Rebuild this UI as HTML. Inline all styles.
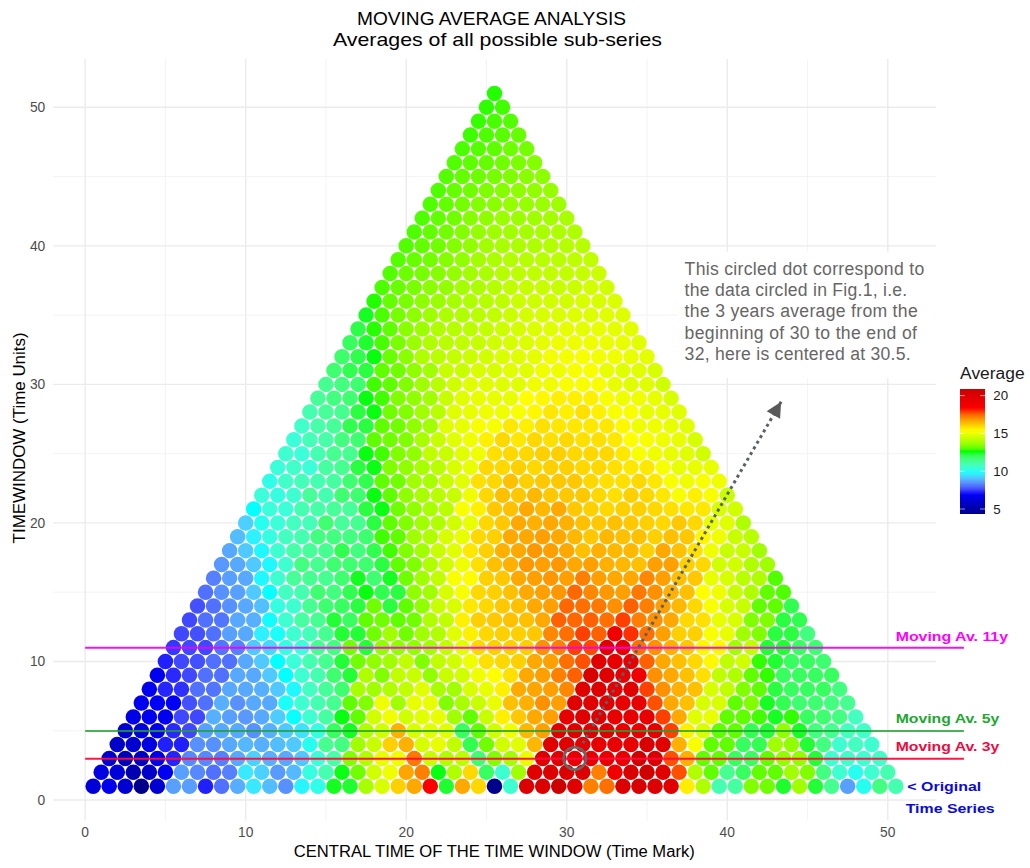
<!DOCTYPE html>
<html><head><meta charset="utf-8"><style>
html,body{margin:0;padding:0;background:#fff;}
svg{display:block;}
text{font-family:"Liberation Sans",sans-serif;}
.ax{font-size:13.8px;fill:#4D4D4D;}
.lg{font-size:13.3px;fill:#1A1A1A;}
.tt{font-size:18.6px;fill:#000;}
.at{font-size:15.6px;fill:#000;}
.ma{font-size:13.3px;font-weight:bold;}
.an{font-size:17.6px;fill:#666666;}
</style></head><body>
<svg width="1030" height="868" viewBox="0 0 1030 868">
<rect width="1030" height="868" fill="#fff"/>
<line x1="85.15" y1="59.0" x2="85.15" y2="820.6" stroke="#EBEBEB" stroke-width="1.4"/>
<line x1="245.68" y1="59.0" x2="245.68" y2="820.6" stroke="#EBEBEB" stroke-width="1.4"/>
<line x1="406.21" y1="59.0" x2="406.21" y2="820.6" stroke="#EBEBEB" stroke-width="1.4"/>
<line x1="566.74" y1="59.0" x2="566.74" y2="820.6" stroke="#EBEBEB" stroke-width="1.4"/>
<line x1="727.27" y1="59.0" x2="727.27" y2="820.6" stroke="#EBEBEB" stroke-width="1.4"/>
<line x1="887.80" y1="59.0" x2="887.80" y2="820.6" stroke="#EBEBEB" stroke-width="1.4"/>
<line x1="165.42" y1="59.0" x2="165.42" y2="820.6" stroke="#F0F0F0" stroke-width="0.8"/>
<line x1="325.95" y1="59.0" x2="325.95" y2="820.6" stroke="#F0F0F0" stroke-width="0.8"/>
<line x1="486.48" y1="59.0" x2="486.48" y2="820.6" stroke="#F0F0F0" stroke-width="0.8"/>
<line x1="647.00" y1="59.0" x2="647.00" y2="820.6" stroke="#F0F0F0" stroke-width="0.8"/>
<line x1="807.53" y1="59.0" x2="807.53" y2="820.6" stroke="#F0F0F0" stroke-width="0.8"/>
<line x1="53.2" y1="800.00" x2="936.0" y2="800.00" stroke="#EBEBEB" stroke-width="1.4"/>
<line x1="53.2" y1="661.46" x2="936.0" y2="661.46" stroke="#EBEBEB" stroke-width="1.4"/>
<line x1="53.2" y1="522.92" x2="936.0" y2="522.92" stroke="#EBEBEB" stroke-width="1.4"/>
<line x1="53.2" y1="384.38" x2="936.0" y2="384.38" stroke="#EBEBEB" stroke-width="1.4"/>
<line x1="53.2" y1="245.84" x2="936.0" y2="245.84" stroke="#EBEBEB" stroke-width="1.4"/>
<line x1="53.2" y1="107.30" x2="936.0" y2="107.30" stroke="#EBEBEB" stroke-width="1.4"/>
<line x1="53.2" y1="730.73" x2="936.0" y2="730.73" stroke="#F0F0F0" stroke-width="0.8"/>
<line x1="53.2" y1="592.19" x2="936.0" y2="592.19" stroke="#F0F0F0" stroke-width="0.8"/>
<line x1="53.2" y1="453.65" x2="936.0" y2="453.65" stroke="#F0F0F0" stroke-width="0.8"/>
<line x1="53.2" y1="315.11" x2="936.0" y2="315.11" stroke="#F0F0F0" stroke-width="0.8"/>
<line x1="53.2" y1="176.57" x2="936.0" y2="176.57" stroke="#F0F0F0" stroke-width="0.8"/>
<text x="45.3" y="804.70" text-anchor="end" class="ax">0</text>
<text x="45.3" y="666.16" text-anchor="end" class="ax">10</text>
<text x="45.3" y="527.62" text-anchor="end" class="ax">20</text>
<text x="45.3" y="389.08" text-anchor="end" class="ax">30</text>
<text x="45.3" y="250.54" text-anchor="end" class="ax">40</text>
<text x="45.3" y="112.00" text-anchor="end" class="ax">50</text>
<text x="85.15" y="837.3" text-anchor="middle" class="ax">0</text>
<text x="245.68" y="837.3" text-anchor="middle" class="ax">10</text>
<text x="406.21" y="837.3" text-anchor="middle" class="ax">20</text>
<text x="566.74" y="837.3" text-anchor="middle" class="ax">30</text>
<text x="727.27" y="837.3" text-anchor="middle" class="ax">40</text>
<text x="887.80" y="837.3" text-anchor="middle" class="ax">50</text>
<text x="491.5" y="25.4" text-anchor="middle" class="tt" textLength="269" lengthAdjust="spacingAndGlyphs">MOVING AVERAGE ANALYSIS</text>
<text x="497.5" y="46.2" text-anchor="middle" class="tt" textLength="329" lengthAdjust="spacingAndGlyphs">Averages of all possible sub-series</text>
<text x="494.3" y="856.6" text-anchor="middle" class="at" textLength="401" lengthAdjust="spacingAndGlyphs">CENTRAL TIME OF THE TIME WINDOW (Time Mark)</text>
<text transform="translate(25.3,437.9) rotate(-90)" x="0" y="0" text-anchor="middle" class="at" textLength="211" lengthAdjust="spacingAndGlyphs">TIMEWINDOW (Time Units)</text>
<g><circle cx="93.18" cy="786.15" r="7.75" fill="#0000d8"/>
<circle cx="109.23" cy="786.15" r="7.75" fill="#0000ee"/>
<circle cx="125.28" cy="786.15" r="7.75" fill="#0000d0"/>
<circle cx="141.34" cy="786.15" r="7.75" fill="#00008b"/>
<circle cx="157.39" cy="786.15" r="7.75" fill="#0000d0"/>
<circle cx="173.44" cy="786.15" r="7.75" fill="#58a0ff"/>
<circle cx="189.49" cy="786.15" r="7.75" fill="#589eff"/>
<circle cx="205.55" cy="786.15" r="7.75" fill="#2020ff"/>
<circle cx="221.60" cy="786.15" r="7.75" fill="#5070ff"/>
<circle cx="237.65" cy="786.15" r="7.75" fill="#57aeff"/>
<circle cx="253.71" cy="786.15" r="7.75" fill="#38e9ff"/>
<circle cx="269.76" cy="786.15" r="7.75" fill="#53beff"/>
<circle cx="285.81" cy="786.15" r="7.75" fill="#5790ff"/>
<circle cx="301.87" cy="786.15" r="7.75" fill="#27f5ff"/>
<circle cx="317.92" cy="786.15" r="7.75" fill="#2fffe8"/>
<circle cx="333.97" cy="786.15" r="7.75" fill="#14ff20"/>
<circle cx="350.02" cy="786.15" r="7.75" fill="#1fff30"/>
<circle cx="366.08" cy="786.15" r="7.75" fill="#a8ff00"/>
<circle cx="382.13" cy="786.15" r="7.75" fill="#d8ff00"/>
<circle cx="398.18" cy="786.15" r="7.75" fill="#ffd000"/>
<circle cx="414.24" cy="786.15" r="7.75" fill="#ffa800"/>
<circle cx="430.29" cy="786.15" r="7.75" fill="#ff0000"/>
<circle cx="446.34" cy="786.15" r="7.75" fill="#1fff30"/>
<circle cx="462.40" cy="786.15" r="7.75" fill="#ffa900"/>
<circle cx="478.45" cy="786.15" r="7.75" fill="#ffd800"/>
<circle cx="494.50" cy="786.15" r="7.75" fill="#00008b"/>
<circle cx="510.55" cy="786.15" r="7.75" fill="#3effd0"/>
<circle cx="526.61" cy="786.15" r="7.75" fill="#dd0000"/>
<circle cx="542.66" cy="786.15" r="7.75" fill="#dd0000"/>
<circle cx="558.71" cy="786.15" r="7.75" fill="#cd0000"/>
<circle cx="574.77" cy="786.15" r="7.75" fill="#e00000"/>
<circle cx="590.82" cy="786.15" r="7.75" fill="#ff8000"/>
<circle cx="606.87" cy="786.15" r="7.75" fill="#ff7000"/>
<circle cx="622.93" cy="786.15" r="7.75" fill="#dd0000"/>
<circle cx="638.98" cy="786.15" r="7.75" fill="#d80000"/>
<circle cx="655.03" cy="786.15" r="7.75" fill="#dd0000"/>
<circle cx="671.08" cy="786.15" r="7.75" fill="#e00000"/>
<circle cx="687.14" cy="786.15" r="7.75" fill="#ffee00"/>
<circle cx="703.19" cy="786.15" r="7.75" fill="#b0ff00"/>
<circle cx="719.24" cy="786.15" r="7.75" fill="#45ffb1"/>
<circle cx="735.30" cy="786.15" r="7.75" fill="#46ffa1"/>
<circle cx="751.35" cy="786.15" r="7.75" fill="#80ff00"/>
<circle cx="767.40" cy="786.15" r="7.75" fill="#70ff00"/>
<circle cx="783.46" cy="786.15" r="7.75" fill="#1dff2d"/>
<circle cx="799.51" cy="786.15" r="7.75" fill="#a0ff00"/>
<circle cx="815.56" cy="786.15" r="7.75" fill="#23ff37"/>
<circle cx="831.61" cy="786.15" r="7.75" fill="#45ff91"/>
<circle cx="847.67" cy="786.15" r="7.75" fill="#58a0ff"/>
<circle cx="863.72" cy="786.15" r="7.75" fill="#26fff0"/>
<circle cx="879.77" cy="786.15" r="7.75" fill="#42ff81"/>
<circle cx="895.83" cy="786.15" r="7.75" fill="#45ffb1"/>
<circle cx="101.20" cy="772.29" r="7.75" fill="#0000e0"/>
<circle cx="117.26" cy="772.29" r="7.75" fill="#0000d8"/>
<circle cx="133.31" cy="772.29" r="7.75" fill="#0000b0"/>
<circle cx="149.36" cy="772.29" r="7.75" fill="#0000c8"/>
<circle cx="165.42" cy="772.29" r="7.75" fill="#0000f0"/>
<circle cx="181.47" cy="772.29" r="7.75" fill="#58a0ff"/>
<circle cx="197.52" cy="772.29" r="7.75" fill="#5688ff"/>
<circle cx="213.57" cy="772.29" r="7.75" fill="#5070ff"/>
<circle cx="229.63" cy="772.29" r="7.75" fill="#5580ff"/>
<circle cx="245.68" cy="772.29" r="7.75" fill="#38e9ff"/>
<circle cx="261.73" cy="772.29" r="7.75" fill="#4bd1ff"/>
<circle cx="277.79" cy="772.29" r="7.75" fill="#589aff"/>
<circle cx="293.84" cy="772.29" r="7.75" fill="#54b9ff"/>
<circle cx="309.89" cy="772.29" r="7.75" fill="#35ffe0"/>
<circle cx="325.95" cy="772.29" r="7.75" fill="#45ffb1"/>
<circle cx="342.00" cy="772.29" r="7.75" fill="#0bff13"/>
<circle cx="358.05" cy="772.29" r="7.75" fill="#70ff00"/>
<circle cx="374.10" cy="772.29" r="7.75" fill="#d0ff00"/>
<circle cx="390.16" cy="772.29" r="7.75" fill="#f0ff00"/>
<circle cx="406.21" cy="772.29" r="7.75" fill="#ffa500"/>
<circle cx="422.26" cy="772.29" r="7.75" fill="#ff8000"/>
<circle cx="438.32" cy="772.29" r="7.75" fill="#09ff10"/>
<circle cx="454.37" cy="772.29" r="7.75" fill="#b0ff00"/>
<circle cx="470.42" cy="772.29" r="7.75" fill="#ffd800"/>
<circle cx="486.48" cy="772.29" r="7.75" fill="#38ff60"/>
<circle cx="502.53" cy="772.29" r="7.75" fill="#3effd0"/>
<circle cx="518.58" cy="772.29" r="7.75" fill="#a0ff00"/>
<circle cx="534.63" cy="772.29" r="7.75" fill="#e00000"/>
<circle cx="550.69" cy="772.29" r="7.75" fill="#dd0000"/>
<circle cx="566.74" cy="772.29" r="7.75" fill="#dd0000"/>
<circle cx="582.79" cy="772.29" r="7.75" fill="#dd0000"/>
<circle cx="598.85" cy="772.29" r="7.75" fill="#ff8000"/>
<circle cx="614.90" cy="772.29" r="7.75" fill="#f00000"/>
<circle cx="630.95" cy="772.29" r="7.75" fill="#d80000"/>
<circle cx="647.00" cy="772.29" r="7.75" fill="#d00000"/>
<circle cx="663.06" cy="772.29" r="7.75" fill="#e00000"/>
<circle cx="679.11" cy="772.29" r="7.75" fill="#ff5000"/>
<circle cx="695.16" cy="772.29" r="7.75" fill="#b0ff00"/>
<circle cx="711.22" cy="772.29" r="7.75" fill="#60ff00"/>
<circle cx="727.27" cy="772.29" r="7.75" fill="#45ff91"/>
<circle cx="743.32" cy="772.29" r="7.75" fill="#38ff60"/>
<circle cx="759.38" cy="772.29" r="7.75" fill="#60ff00"/>
<circle cx="775.43" cy="772.29" r="7.75" fill="#60ff00"/>
<circle cx="791.48" cy="772.29" r="7.75" fill="#a0ff00"/>
<circle cx="807.53" cy="772.29" r="7.75" fill="#80ff00"/>
<circle cx="823.59" cy="772.29" r="7.75" fill="#42ff81"/>
<circle cx="839.64" cy="772.29" r="7.75" fill="#3effd0"/>
<circle cx="855.69" cy="772.29" r="7.75" fill="#26fff0"/>
<circle cx="871.75" cy="772.29" r="7.75" fill="#3effd0"/>
<circle cx="887.80" cy="772.29" r="7.75" fill="#45ffb1"/>
<circle cx="109.23" cy="758.44" r="7.75" fill="#0000d0"/>
<circle cx="125.28" cy="758.44" r="7.75" fill="#0000b8"/>
<circle cx="141.34" cy="758.44" r="7.75" fill="#0000c0"/>
<circle cx="157.39" cy="758.44" r="7.75" fill="#0000e8"/>
<circle cx="173.44" cy="758.44" r="7.75" fill="#2424ff"/>
<circle cx="189.49" cy="758.44" r="7.75" fill="#5688ff"/>
<circle cx="205.55" cy="758.44" r="7.75" fill="#5688ff"/>
<circle cx="221.60" cy="758.44" r="7.75" fill="#5580ff"/>
<circle cx="237.65" cy="758.44" r="7.75" fill="#57a8ff"/>
<circle cx="253.71" cy="758.44" r="7.75" fill="#4bd1ff"/>
<circle cx="269.76" cy="758.44" r="7.75" fill="#56b0ff"/>
<circle cx="285.81" cy="758.44" r="7.75" fill="#57a8ff"/>
<circle cx="301.87" cy="758.44" r="7.75" fill="#50c8ff"/>
<circle cx="317.92" cy="758.44" r="7.75" fill="#3affd8"/>
<circle cx="333.97" cy="758.44" r="7.75" fill="#46ffa9"/>
<circle cx="350.02" cy="758.44" r="7.75" fill="#80ff00"/>
<circle cx="366.08" cy="758.44" r="7.75" fill="#b0ff00"/>
<circle cx="382.13" cy="758.44" r="7.75" fill="#e8ff00"/>
<circle cx="398.18" cy="758.44" r="7.75" fill="#f0ff00"/>
<circle cx="414.24" cy="758.44" r="7.75" fill="#ff7800"/>
<circle cx="430.29" cy="758.44" r="7.75" fill="#c8ff00"/>
<circle cx="446.34" cy="758.44" r="7.75" fill="#b0ff00"/>
<circle cx="462.40" cy="758.44" r="7.75" fill="#b8ff00"/>
<circle cx="478.45" cy="758.44" r="7.75" fill="#3eff70"/>
<circle cx="494.50" cy="758.44" r="7.75" fill="#80ff00"/>
<circle cx="510.55" cy="758.44" r="7.75" fill="#a0ff00"/>
<circle cx="526.61" cy="758.44" r="7.75" fill="#e8ff00"/>
<circle cx="542.66" cy="758.44" r="7.75" fill="#dd0000"/>
<circle cx="558.71" cy="758.44" r="7.75" fill="#e00000"/>
<circle cx="574.77" cy="758.44" r="7.75" fill="#e80000"/>
<circle cx="590.82" cy="758.44" r="7.75" fill="#e80000"/>
<circle cx="606.87" cy="758.44" r="7.75" fill="#e80000"/>
<circle cx="622.93" cy="758.44" r="7.75" fill="#e80000"/>
<circle cx="638.98" cy="758.44" r="7.75" fill="#d00000"/>
<circle cx="655.03" cy="758.44" r="7.75" fill="#d80000"/>
<circle cx="671.08" cy="758.44" r="7.75" fill="#ff5000"/>
<circle cx="687.14" cy="758.44" r="7.75" fill="#ffb000"/>
<circle cx="703.19" cy="758.44" r="7.75" fill="#60ff00"/>
<circle cx="719.24" cy="758.44" r="7.75" fill="#60ff00"/>
<circle cx="735.30" cy="758.44" r="7.75" fill="#38ff60"/>
<circle cx="751.35" cy="758.44" r="7.75" fill="#38ff60"/>
<circle cx="767.40" cy="758.44" r="7.75" fill="#60ff00"/>
<circle cx="783.46" cy="758.44" r="7.75" fill="#90ff00"/>
<circle cx="799.51" cy="758.44" r="7.75" fill="#90ff00"/>
<circle cx="815.56" cy="758.44" r="7.75" fill="#23ff37"/>
<circle cx="831.61" cy="758.44" r="7.75" fill="#3effd0"/>
<circle cx="847.67" cy="758.44" r="7.75" fill="#40ffc8"/>
<circle cx="863.72" cy="758.44" r="7.75" fill="#3effd0"/>
<circle cx="879.77" cy="758.44" r="7.75" fill="#40ffc8"/>
<circle cx="117.26" cy="744.58" r="7.75" fill="#0000c8"/>
<circle cx="133.31" cy="744.58" r="7.75" fill="#0000d0"/>
<circle cx="149.36" cy="744.58" r="7.75" fill="#0000e0"/>
<circle cx="165.42" cy="744.58" r="7.75" fill="#2020ff"/>
<circle cx="181.47" cy="744.58" r="7.75" fill="#2020ff"/>
<circle cx="197.52" cy="744.58" r="7.75" fill="#5790ff"/>
<circle cx="213.57" cy="744.58" r="7.75" fill="#5790ff"/>
<circle cx="229.63" cy="744.58" r="7.75" fill="#57a8ff"/>
<circle cx="245.68" cy="744.58" r="7.75" fill="#55b8ff"/>
<circle cx="261.73" cy="744.58" r="7.75" fill="#56b0ff"/>
<circle cx="277.79" cy="744.58" r="7.75" fill="#53beff"/>
<circle cx="293.84" cy="744.58" r="7.75" fill="#4fc9ff"/>
<circle cx="309.89" cy="744.58" r="7.75" fill="#26fff0"/>
<circle cx="325.95" cy="744.58" r="7.75" fill="#45ff91"/>
<circle cx="342.00" cy="744.58" r="7.75" fill="#42ff81"/>
<circle cx="358.05" cy="744.58" r="7.75" fill="#a0ff00"/>
<circle cx="374.10" cy="744.58" r="7.75" fill="#c8ff00"/>
<circle cx="390.16" cy="744.58" r="7.75" fill="#ffd000"/>
<circle cx="406.21" cy="744.58" r="7.75" fill="#ffb000"/>
<circle cx="422.26" cy="744.58" r="7.75" fill="#d8ff00"/>
<circle cx="438.32" cy="744.58" r="7.75" fill="#e8ff00"/>
<circle cx="454.37" cy="744.58" r="7.75" fill="#c0ff00"/>
<circle cx="470.42" cy="744.58" r="7.75" fill="#31ff50"/>
<circle cx="486.48" cy="744.58" r="7.75" fill="#70ff00"/>
<circle cx="502.53" cy="744.58" r="7.75" fill="#d0ff00"/>
<circle cx="518.58" cy="744.58" r="7.75" fill="#e0ff00"/>
<circle cx="534.63" cy="744.58" r="7.75" fill="#ffb800"/>
<circle cx="550.69" cy="744.58" r="7.75" fill="#e00000"/>
<circle cx="566.74" cy="744.58" r="7.75" fill="#e00000"/>
<circle cx="582.79" cy="744.58" r="7.75" fill="#e80000"/>
<circle cx="598.85" cy="744.58" r="7.75" fill="#e80000"/>
<circle cx="614.90" cy="744.58" r="7.75" fill="#e80000"/>
<circle cx="630.95" cy="744.58" r="7.75" fill="#e80000"/>
<circle cx="647.00" cy="744.58" r="7.75" fill="#d80000"/>
<circle cx="663.06" cy="744.58" r="7.75" fill="#e00000"/>
<circle cx="679.11" cy="744.58" r="7.75" fill="#ffb000"/>
<circle cx="695.16" cy="744.58" r="7.75" fill="#f8ff00"/>
<circle cx="711.22" cy="744.58" r="7.75" fill="#60ff00"/>
<circle cx="727.27" cy="744.58" r="7.75" fill="#60ff00"/>
<circle cx="743.32" cy="744.58" r="7.75" fill="#38ff60"/>
<circle cx="759.38" cy="744.58" r="7.75" fill="#32ff51"/>
<circle cx="775.43" cy="744.58" r="7.75" fill="#a0ff00"/>
<circle cx="791.48" cy="744.58" r="7.75" fill="#90ff00"/>
<circle cx="807.53" cy="744.58" r="7.75" fill="#22ff35"/>
<circle cx="823.59" cy="744.58" r="7.75" fill="#42ff80"/>
<circle cx="839.64" cy="744.58" r="7.75" fill="#3effd0"/>
<circle cx="855.69" cy="744.58" r="7.75" fill="#43ffc0"/>
<circle cx="871.75" cy="744.58" r="7.75" fill="#3effd0"/>
<circle cx="125.28" cy="730.73" r="7.75" fill="#0000d0"/>
<circle cx="141.34" cy="730.73" r="7.75" fill="#0000d8"/>
<circle cx="157.39" cy="730.73" r="7.75" fill="#0000e8"/>
<circle cx="173.44" cy="730.73" r="7.75" fill="#2828ff"/>
<circle cx="189.49" cy="730.73" r="7.75" fill="#3f48ff"/>
<circle cx="205.55" cy="730.73" r="7.75" fill="#58a0ff"/>
<circle cx="221.60" cy="730.73" r="7.75" fill="#57a8ff"/>
<circle cx="237.65" cy="730.73" r="7.75" fill="#57a8ff"/>
<circle cx="253.71" cy="730.73" r="7.75" fill="#5791ff"/>
<circle cx="269.76" cy="730.73" r="7.75" fill="#56b0ff"/>
<circle cx="285.81" cy="730.73" r="7.75" fill="#4fc9ff"/>
<circle cx="301.87" cy="730.73" r="7.75" fill="#41e0ff"/>
<circle cx="317.92" cy="730.73" r="7.75" fill="#35ffe0"/>
<circle cx="333.97" cy="730.73" r="7.75" fill="#38ff60"/>
<circle cx="350.02" cy="730.73" r="7.75" fill="#14ff20"/>
<circle cx="366.08" cy="730.73" r="7.75" fill="#b0ff00"/>
<circle cx="382.13" cy="730.73" r="7.75" fill="#d0ff00"/>
<circle cx="398.18" cy="730.73" r="7.75" fill="#ffb000"/>
<circle cx="414.24" cy="730.73" r="7.75" fill="#d8ff00"/>
<circle cx="430.29" cy="730.73" r="7.75" fill="#e0ff00"/>
<circle cx="446.34" cy="730.73" r="7.75" fill="#e0ff00"/>
<circle cx="462.40" cy="730.73" r="7.75" fill="#37ff5f"/>
<circle cx="478.45" cy="730.73" r="7.75" fill="#60ff00"/>
<circle cx="494.50" cy="730.73" r="7.75" fill="#d0ff00"/>
<circle cx="510.55" cy="730.73" r="7.75" fill="#f0ff00"/>
<circle cx="526.61" cy="730.73" r="7.75" fill="#ffb800"/>
<circle cx="542.66" cy="730.73" r="7.75" fill="#ffa000"/>
<circle cx="558.71" cy="730.73" r="7.75" fill="#e00000"/>
<circle cx="574.77" cy="730.73" r="7.75" fill="#e00000"/>
<circle cx="590.82" cy="730.73" r="7.75" fill="#e00000"/>
<circle cx="606.87" cy="730.73" r="7.75" fill="#e00000"/>
<circle cx="622.93" cy="730.73" r="7.75" fill="#e80000"/>
<circle cx="638.98" cy="730.73" r="7.75" fill="#e80000"/>
<circle cx="655.03" cy="730.73" r="7.75" fill="#e80000"/>
<circle cx="671.08" cy="730.73" r="7.75" fill="#ff4000"/>
<circle cx="687.14" cy="730.73" r="7.75" fill="#fff000"/>
<circle cx="703.19" cy="730.73" r="7.75" fill="#d8ff00"/>
<circle cx="719.24" cy="730.73" r="7.75" fill="#60ff00"/>
<circle cx="735.30" cy="730.73" r="7.75" fill="#60ff00"/>
<circle cx="751.35" cy="730.73" r="7.75" fill="#32ff51"/>
<circle cx="767.40" cy="730.73" r="7.75" fill="#22ff35"/>
<circle cx="783.46" cy="730.73" r="7.75" fill="#90ff00"/>
<circle cx="799.51" cy="730.73" r="7.75" fill="#16ff23"/>
<circle cx="815.56" cy="730.73" r="7.75" fill="#42ff80"/>
<circle cx="831.61" cy="730.73" r="7.75" fill="#45ff90"/>
<circle cx="847.67" cy="730.73" r="7.75" fill="#43ffc0"/>
<circle cx="863.72" cy="730.73" r="7.75" fill="#40ffc8"/>
<circle cx="133.31" cy="716.88" r="7.75" fill="#0000e8"/>
<circle cx="149.36" cy="716.88" r="7.75" fill="#0000f0"/>
<circle cx="165.42" cy="716.88" r="7.75" fill="#0000f0"/>
<circle cx="181.47" cy="716.88" r="7.75" fill="#3f48ff"/>
<circle cx="197.52" cy="716.88" r="7.75" fill="#3f48ff"/>
<circle cx="213.57" cy="716.88" r="7.75" fill="#56b0ff"/>
<circle cx="229.63" cy="716.88" r="7.75" fill="#58a0ff"/>
<circle cx="245.68" cy="716.88" r="7.75" fill="#5898ff"/>
<circle cx="261.73" cy="716.88" r="7.75" fill="#57a8ff"/>
<circle cx="277.79" cy="716.88" r="7.75" fill="#4dcdff"/>
<circle cx="293.84" cy="716.88" r="7.75" fill="#08feff"/>
<circle cx="309.89" cy="716.88" r="7.75" fill="#3effd0"/>
<circle cx="325.95" cy="716.88" r="7.75" fill="#46ffa1"/>
<circle cx="342.00" cy="716.88" r="7.75" fill="#09ff10"/>
<circle cx="358.05" cy="716.88" r="7.75" fill="#60ff00"/>
<circle cx="374.10" cy="716.88" r="7.75" fill="#d0ff00"/>
<circle cx="390.16" cy="716.88" r="7.75" fill="#f0ff00"/>
<circle cx="406.21" cy="716.88" r="7.75" fill="#d0ff00"/>
<circle cx="422.26" cy="716.88" r="7.75" fill="#e0ff00"/>
<circle cx="438.32" cy="716.88" r="7.75" fill="#e8ff00"/>
<circle cx="454.37" cy="716.88" r="7.75" fill="#a0ff00"/>
<circle cx="470.42" cy="716.88" r="7.75" fill="#60ff00"/>
<circle cx="486.48" cy="716.88" r="7.75" fill="#c8ff00"/>
<circle cx="502.53" cy="716.88" r="7.75" fill="#fff000"/>
<circle cx="518.58" cy="716.88" r="7.75" fill="#ffc800"/>
<circle cx="534.63" cy="716.88" r="7.75" fill="#ffa800"/>
<circle cx="550.69" cy="716.88" r="7.75" fill="#ffa000"/>
<circle cx="566.74" cy="716.88" r="7.75" fill="#e80000"/>
<circle cx="582.79" cy="716.88" r="7.75" fill="#e00000"/>
<circle cx="598.85" cy="716.88" r="7.75" fill="#e00000"/>
<circle cx="614.90" cy="716.88" r="7.75" fill="#e80000"/>
<circle cx="630.95" cy="716.88" r="7.75" fill="#e80000"/>
<circle cx="647.00" cy="716.88" r="7.75" fill="#e80000"/>
<circle cx="663.06" cy="716.88" r="7.75" fill="#ff4000"/>
<circle cx="679.11" cy="716.88" r="7.75" fill="#ffa800"/>
<circle cx="695.16" cy="716.88" r="7.75" fill="#e0ff00"/>
<circle cx="711.22" cy="716.88" r="7.75" fill="#e8ff00"/>
<circle cx="727.27" cy="716.88" r="7.75" fill="#60ff00"/>
<circle cx="743.32" cy="716.88" r="7.75" fill="#60ff00"/>
<circle cx="759.38" cy="716.88" r="7.75" fill="#41ff00"/>
<circle cx="775.43" cy="716.88" r="7.75" fill="#16ff23"/>
<circle cx="791.48" cy="716.88" r="7.75" fill="#31ff00"/>
<circle cx="807.53" cy="716.88" r="7.75" fill="#38ff60"/>
<circle cx="823.59" cy="716.88" r="7.75" fill="#3eff70"/>
<circle cx="839.64" cy="716.88" r="7.75" fill="#42ff80"/>
<circle cx="855.69" cy="716.88" r="7.75" fill="#43ffc0"/>
<circle cx="141.34" cy="703.02" r="7.75" fill="#0000f0"/>
<circle cx="157.39" cy="703.02" r="7.75" fill="#0000f8"/>
<circle cx="173.44" cy="703.02" r="7.75" fill="#0000f8"/>
<circle cx="189.49" cy="703.02" r="7.75" fill="#4350ff"/>
<circle cx="205.55" cy="703.02" r="7.75" fill="#5070ff"/>
<circle cx="221.60" cy="703.02" r="7.75" fill="#56b0ff"/>
<circle cx="237.65" cy="703.02" r="7.75" fill="#5790ff"/>
<circle cx="253.71" cy="703.02" r="7.75" fill="#57a8ff"/>
<circle cx="269.76" cy="703.02" r="7.75" fill="#57a8ff"/>
<circle cx="285.81" cy="703.02" r="7.75" fill="#1afff8"/>
<circle cx="301.87" cy="703.02" r="7.75" fill="#3effd0"/>
<circle cx="317.92" cy="703.02" r="7.75" fill="#45ffb1"/>
<circle cx="333.97" cy="703.02" r="7.75" fill="#45ff91"/>
<circle cx="350.02" cy="703.02" r="7.75" fill="#60ff00"/>
<circle cx="366.08" cy="703.02" r="7.75" fill="#80ff00"/>
<circle cx="382.13" cy="703.02" r="7.75" fill="#f0ff00"/>
<circle cx="398.18" cy="703.02" r="7.75" fill="#a0ff00"/>
<circle cx="414.24" cy="703.02" r="7.75" fill="#e8ff00"/>
<circle cx="430.29" cy="703.02" r="7.75" fill="#e8ff00"/>
<circle cx="446.34" cy="703.02" r="7.75" fill="#80ff00"/>
<circle cx="462.40" cy="703.02" r="7.75" fill="#a8ff00"/>
<circle cx="478.45" cy="703.02" r="7.75" fill="#c8ff00"/>
<circle cx="494.50" cy="703.02" r="7.75" fill="#e8ff00"/>
<circle cx="510.55" cy="703.02" r="7.75" fill="#ffc000"/>
<circle cx="526.61" cy="703.02" r="7.75" fill="#ffb000"/>
<circle cx="542.66" cy="703.02" r="7.75" fill="#ff9000"/>
<circle cx="558.71" cy="703.02" r="7.75" fill="#ffa000"/>
<circle cx="574.77" cy="703.02" r="7.75" fill="#e00000"/>
<circle cx="590.82" cy="703.02" r="7.75" fill="#e00000"/>
<circle cx="606.87" cy="703.02" r="7.75" fill="#e00000"/>
<circle cx="622.93" cy="703.02" r="7.75" fill="#e80000"/>
<circle cx="638.98" cy="703.02" r="7.75" fill="#e80000"/>
<circle cx="655.03" cy="703.02" r="7.75" fill="#ff5000"/>
<circle cx="671.08" cy="703.02" r="7.75" fill="#ffa800"/>
<circle cx="687.14" cy="703.02" r="7.75" fill="#ffc000"/>
<circle cx="703.19" cy="703.02" r="7.75" fill="#d8ff00"/>
<circle cx="719.24" cy="703.02" r="7.75" fill="#d8ff00"/>
<circle cx="735.30" cy="703.02" r="7.75" fill="#60ff00"/>
<circle cx="751.35" cy="703.02" r="7.75" fill="#80ff00"/>
<circle cx="767.40" cy="703.02" r="7.75" fill="#16ff23"/>
<circle cx="783.46" cy="703.02" r="7.75" fill="#32ff51"/>
<circle cx="799.51" cy="703.02" r="7.75" fill="#3eff70"/>
<circle cx="815.56" cy="703.02" r="7.75" fill="#3eff70"/>
<circle cx="831.61" cy="703.02" r="7.75" fill="#42ff80"/>
<circle cx="847.67" cy="703.02" r="7.75" fill="#45ff90"/>
<circle cx="149.36" cy="689.17" r="7.75" fill="#0000f0"/>
<circle cx="165.42" cy="689.17" r="7.75" fill="#2526ff"/>
<circle cx="181.47" cy="689.17" r="7.75" fill="#2e30ff"/>
<circle cx="197.52" cy="689.17" r="7.75" fill="#5070ff"/>
<circle cx="213.57" cy="689.17" r="7.75" fill="#5275ff"/>
<circle cx="229.63" cy="689.17" r="7.75" fill="#57a8ff"/>
<circle cx="245.68" cy="689.17" r="7.75" fill="#57a8ff"/>
<circle cx="261.73" cy="689.17" r="7.75" fill="#56b0ff"/>
<circle cx="277.79" cy="689.17" r="7.75" fill="#4fc9ff"/>
<circle cx="293.84" cy="689.17" r="7.75" fill="#20f8ff"/>
<circle cx="309.89" cy="689.17" r="7.75" fill="#43ffc1"/>
<circle cx="325.95" cy="689.17" r="7.75" fill="#46ff98"/>
<circle cx="342.00" cy="689.17" r="7.75" fill="#3eff70"/>
<circle cx="358.05" cy="689.17" r="7.75" fill="#a8ff00"/>
<circle cx="374.10" cy="689.17" r="7.75" fill="#a0ff00"/>
<circle cx="390.16" cy="689.17" r="7.75" fill="#b0ff00"/>
<circle cx="406.21" cy="689.17" r="7.75" fill="#c0ff00"/>
<circle cx="422.26" cy="689.17" r="7.75" fill="#e0ff00"/>
<circle cx="438.32" cy="689.17" r="7.75" fill="#a8ff00"/>
<circle cx="454.37" cy="689.17" r="7.75" fill="#a0ff00"/>
<circle cx="470.42" cy="689.17" r="7.75" fill="#d8ff00"/>
<circle cx="486.48" cy="689.17" r="7.75" fill="#e8ff00"/>
<circle cx="502.53" cy="689.17" r="7.75" fill="#fff000"/>
<circle cx="518.58" cy="689.17" r="7.75" fill="#ffaa00"/>
<circle cx="534.63" cy="689.17" r="7.75" fill="#ffa500"/>
<circle cx="550.69" cy="689.17" r="7.75" fill="#ffa000"/>
<circle cx="566.74" cy="689.17" r="7.75" fill="#ff8800"/>
<circle cx="582.79" cy="689.17" r="7.75" fill="#e00000"/>
<circle cx="598.85" cy="689.17" r="7.75" fill="#dd0000"/>
<circle cx="614.90" cy="689.17" r="7.75" fill="#e80000"/>
<circle cx="630.95" cy="689.17" r="7.75" fill="#e00000"/>
<circle cx="647.00" cy="689.17" r="7.75" fill="#ff4000"/>
<circle cx="663.06" cy="689.17" r="7.75" fill="#ff9000"/>
<circle cx="679.11" cy="689.17" r="7.75" fill="#ffb000"/>
<circle cx="695.16" cy="689.17" r="7.75" fill="#ffc000"/>
<circle cx="711.22" cy="689.17" r="7.75" fill="#d8ff00"/>
<circle cx="727.27" cy="689.17" r="7.75" fill="#c0ff00"/>
<circle cx="743.32" cy="689.17" r="7.75" fill="#80ff00"/>
<circle cx="759.38" cy="689.17" r="7.75" fill="#60ff00"/>
<circle cx="775.43" cy="689.17" r="7.75" fill="#29ff40"/>
<circle cx="791.48" cy="689.17" r="7.75" fill="#38ff60"/>
<circle cx="807.53" cy="689.17" r="7.75" fill="#38ff60"/>
<circle cx="823.59" cy="689.17" r="7.75" fill="#38ff60"/>
<circle cx="839.64" cy="689.17" r="7.75" fill="#42ff80"/>
<circle cx="157.39" cy="675.31" r="7.75" fill="#0000f0"/>
<circle cx="173.44" cy="675.31" r="7.75" fill="#2828ff"/>
<circle cx="189.49" cy="675.31" r="7.75" fill="#3f48ff"/>
<circle cx="205.55" cy="675.31" r="7.75" fill="#5070ff"/>
<circle cx="221.60" cy="675.31" r="7.75" fill="#5070ff"/>
<circle cx="237.65" cy="675.31" r="7.75" fill="#57a8ff"/>
<circle cx="253.71" cy="675.31" r="7.75" fill="#57a8ff"/>
<circle cx="269.76" cy="675.31" r="7.75" fill="#4fc9ff"/>
<circle cx="285.81" cy="675.31" r="7.75" fill="#03ffff"/>
<circle cx="301.87" cy="675.31" r="7.75" fill="#3effd0"/>
<circle cx="317.92" cy="675.31" r="7.75" fill="#45ffb1"/>
<circle cx="333.97" cy="675.31" r="7.75" fill="#3eff70"/>
<circle cx="350.02" cy="675.31" r="7.75" fill="#22ff35"/>
<circle cx="366.08" cy="675.31" r="7.75" fill="#b0ff00"/>
<circle cx="382.13" cy="675.31" r="7.75" fill="#80ff00"/>
<circle cx="398.18" cy="675.31" r="7.75" fill="#c0ff00"/>
<circle cx="414.24" cy="675.31" r="7.75" fill="#c8ff00"/>
<circle cx="430.29" cy="675.31" r="7.75" fill="#90ff00"/>
<circle cx="446.34" cy="675.31" r="7.75" fill="#c8ff00"/>
<circle cx="462.40" cy="675.31" r="7.75" fill="#d0ff00"/>
<circle cx="478.45" cy="675.31" r="7.75" fill="#f0ff00"/>
<circle cx="494.50" cy="675.31" r="7.75" fill="#ffff00"/>
<circle cx="510.55" cy="675.31" r="7.75" fill="#ffe000"/>
<circle cx="526.61" cy="675.31" r="7.75" fill="#ffa800"/>
<circle cx="542.66" cy="675.31" r="7.75" fill="#ffa000"/>
<circle cx="558.71" cy="675.31" r="7.75" fill="#ff8000"/>
<circle cx="574.77" cy="675.31" r="7.75" fill="#ff6000"/>
<circle cx="590.82" cy="675.31" r="7.75" fill="#d80000"/>
<circle cx="606.87" cy="675.31" r="7.75" fill="#e00000"/>
<circle cx="622.93" cy="675.31" r="7.75" fill="#e80000"/>
<circle cx="638.98" cy="675.31" r="7.75" fill="#f00000"/>
<circle cx="655.03" cy="675.31" r="7.75" fill="#ff9000"/>
<circle cx="671.08" cy="675.31" r="7.75" fill="#ffa800"/>
<circle cx="687.14" cy="675.31" r="7.75" fill="#ffc000"/>
<circle cx="703.19" cy="675.31" r="7.75" fill="#ffe000"/>
<circle cx="719.24" cy="675.31" r="7.75" fill="#c0ff00"/>
<circle cx="735.30" cy="675.31" r="7.75" fill="#b0ff00"/>
<circle cx="751.35" cy="675.31" r="7.75" fill="#60ff00"/>
<circle cx="767.40" cy="675.31" r="7.75" fill="#31ff00"/>
<circle cx="783.46" cy="675.31" r="7.75" fill="#38ff60"/>
<circle cx="799.51" cy="675.31" r="7.75" fill="#38ff60"/>
<circle cx="815.56" cy="675.31" r="7.75" fill="#38ff60"/>
<circle cx="831.61" cy="675.31" r="7.75" fill="#38ff60"/>
<circle cx="165.42" cy="661.46" r="7.75" fill="#2020ff"/>
<circle cx="181.47" cy="661.46" r="7.75" fill="#3f48ff"/>
<circle cx="197.52" cy="661.46" r="7.75" fill="#4350ff"/>
<circle cx="213.57" cy="661.46" r="7.75" fill="#5070ff"/>
<circle cx="229.63" cy="661.46" r="7.75" fill="#5070ff"/>
<circle cx="245.68" cy="661.46" r="7.75" fill="#57a8ff"/>
<circle cx="261.73" cy="661.46" r="7.75" fill="#4fc9ff"/>
<circle cx="277.79" cy="661.46" r="7.75" fill="#03ffff"/>
<circle cx="293.84" cy="661.46" r="7.75" fill="#3affd8"/>
<circle cx="309.89" cy="661.46" r="7.75" fill="#45ffb1"/>
<circle cx="325.95" cy="661.46" r="7.75" fill="#45ff90"/>
<circle cx="342.00" cy="661.46" r="7.75" fill="#23ff37"/>
<circle cx="358.05" cy="661.46" r="7.75" fill="#70ff00"/>
<circle cx="374.10" cy="661.46" r="7.75" fill="#90ff00"/>
<circle cx="390.16" cy="661.46" r="7.75" fill="#a0ff00"/>
<circle cx="406.21" cy="661.46" r="7.75" fill="#c0ff00"/>
<circle cx="422.26" cy="661.46" r="7.75" fill="#80ff00"/>
<circle cx="438.32" cy="661.46" r="7.75" fill="#c0ff00"/>
<circle cx="454.37" cy="661.46" r="7.75" fill="#d0ff00"/>
<circle cx="470.42" cy="661.46" r="7.75" fill="#f0ff00"/>
<circle cx="486.48" cy="661.46" r="7.75" fill="#ffe000"/>
<circle cx="502.53" cy="661.46" r="7.75" fill="#ffd800"/>
<circle cx="518.58" cy="661.46" r="7.75" fill="#ffd000"/>
<circle cx="534.63" cy="661.46" r="7.75" fill="#ffa800"/>
<circle cx="550.69" cy="661.46" r="7.75" fill="#ffa000"/>
<circle cx="566.74" cy="661.46" r="7.75" fill="#ff7000"/>
<circle cx="582.79" cy="661.46" r="7.75" fill="#ff5000"/>
<circle cx="598.85" cy="661.46" r="7.75" fill="#e00000"/>
<circle cx="614.90" cy="661.46" r="7.75" fill="#e80000"/>
<circle cx="630.95" cy="661.46" r="7.75" fill="#e80000"/>
<circle cx="647.00" cy="661.46" r="7.75" fill="#ff6000"/>
<circle cx="663.06" cy="661.46" r="7.75" fill="#ffa800"/>
<circle cx="679.11" cy="661.46" r="7.75" fill="#ffc000"/>
<circle cx="695.16" cy="661.46" r="7.75" fill="#ffd800"/>
<circle cx="711.22" cy="661.46" r="7.75" fill="#fff800"/>
<circle cx="727.27" cy="661.46" r="7.75" fill="#c0ff00"/>
<circle cx="743.32" cy="661.46" r="7.75" fill="#d0ff00"/>
<circle cx="759.38" cy="661.46" r="7.75" fill="#31ff00"/>
<circle cx="775.43" cy="661.46" r="7.75" fill="#20ff32"/>
<circle cx="791.48" cy="661.46" r="7.75" fill="#38ff60"/>
<circle cx="807.53" cy="661.46" r="7.75" fill="#38ff60"/>
<circle cx="823.59" cy="661.46" r="7.75" fill="#3eff70"/>
<circle cx="173.44" cy="647.61" r="7.75" fill="#3438ff"/>
<circle cx="189.49" cy="647.61" r="7.75" fill="#3f48ff"/>
<circle cx="205.55" cy="647.61" r="7.75" fill="#3f48ff"/>
<circle cx="221.60" cy="647.61" r="7.75" fill="#5275ff"/>
<circle cx="237.65" cy="647.61" r="7.75" fill="#5580ff"/>
<circle cx="253.71" cy="647.61" r="7.75" fill="#4fc9ff"/>
<circle cx="269.76" cy="647.61" r="7.75" fill="#47d8ff"/>
<circle cx="285.81" cy="647.61" r="7.75" fill="#35ffe0"/>
<circle cx="301.87" cy="647.61" r="7.75" fill="#3affd8"/>
<circle cx="317.92" cy="647.61" r="7.75" fill="#45ff90"/>
<circle cx="333.97" cy="647.61" r="7.75" fill="#42ff80"/>
<circle cx="350.02" cy="647.61" r="7.75" fill="#70ff00"/>
<circle cx="366.08" cy="647.61" r="7.75" fill="#22ff35"/>
<circle cx="382.13" cy="647.61" r="7.75" fill="#90ff00"/>
<circle cx="398.18" cy="647.61" r="7.75" fill="#90ff00"/>
<circle cx="414.24" cy="647.61" r="7.75" fill="#90ff00"/>
<circle cx="430.29" cy="647.61" r="7.75" fill="#a0ff00"/>
<circle cx="446.34" cy="647.61" r="7.75" fill="#c0ff00"/>
<circle cx="462.40" cy="647.61" r="7.75" fill="#e0ff00"/>
<circle cx="478.45" cy="647.61" r="7.75" fill="#ffd800"/>
<circle cx="494.50" cy="647.61" r="7.75" fill="#ffd000"/>
<circle cx="510.55" cy="647.61" r="7.75" fill="#ffd000"/>
<circle cx="526.61" cy="647.61" r="7.75" fill="#ffd000"/>
<circle cx="542.66" cy="647.61" r="7.75" fill="#ff9000"/>
<circle cx="558.71" cy="647.61" r="7.75" fill="#ff8000"/>
<circle cx="574.77" cy="647.61" r="7.75" fill="#ff4000"/>
<circle cx="590.82" cy="647.61" r="7.75" fill="#ff4800"/>
<circle cx="606.87" cy="647.61" r="7.75" fill="#e00000"/>
<circle cx="622.93" cy="647.61" r="7.75" fill="#e80000"/>
<circle cx="638.98" cy="647.61" r="7.75" fill="#ff7000"/>
<circle cx="655.03" cy="647.61" r="7.75" fill="#ff9000"/>
<circle cx="671.08" cy="647.61" r="7.75" fill="#ffb000"/>
<circle cx="687.14" cy="647.61" r="7.75" fill="#ffc800"/>
<circle cx="703.19" cy="647.61" r="7.75" fill="#fff800"/>
<circle cx="719.24" cy="647.61" r="7.75" fill="#fff800"/>
<circle cx="735.30" cy="647.61" r="7.75" fill="#a0ff00"/>
<circle cx="751.35" cy="647.61" r="7.75" fill="#c0ff00"/>
<circle cx="767.40" cy="647.61" r="7.75" fill="#20ff32"/>
<circle cx="783.46" cy="647.61" r="7.75" fill="#20ff32"/>
<circle cx="799.51" cy="647.61" r="7.75" fill="#38ff60"/>
<circle cx="815.56" cy="647.61" r="7.75" fill="#3eff70"/>
<circle cx="181.47" cy="633.75" r="7.75" fill="#3f48ff"/>
<circle cx="197.52" cy="633.75" r="7.75" fill="#4350ff"/>
<circle cx="213.57" cy="633.75" r="7.75" fill="#5070ff"/>
<circle cx="229.63" cy="633.75" r="7.75" fill="#58a0ff"/>
<circle cx="245.68" cy="633.75" r="7.75" fill="#57a8ff"/>
<circle cx="261.73" cy="633.75" r="7.75" fill="#2ff0ff"/>
<circle cx="277.79" cy="633.75" r="7.75" fill="#1afff8"/>
<circle cx="293.84" cy="633.75" r="7.75" fill="#3effd0"/>
<circle cx="309.89" cy="633.75" r="7.75" fill="#44ffb9"/>
<circle cx="325.95" cy="633.75" r="7.75" fill="#45ff90"/>
<circle cx="342.00" cy="633.75" r="7.75" fill="#22ff35"/>
<circle cx="358.05" cy="633.75" r="7.75" fill="#22ff35"/>
<circle cx="374.10" cy="633.75" r="7.75" fill="#70ff00"/>
<circle cx="390.16" cy="633.75" r="7.75" fill="#a0ff00"/>
<circle cx="406.21" cy="633.75" r="7.75" fill="#70ff00"/>
<circle cx="422.26" cy="633.75" r="7.75" fill="#a0ff00"/>
<circle cx="438.32" cy="633.75" r="7.75" fill="#b0ff00"/>
<circle cx="454.37" cy="633.75" r="7.75" fill="#e0ff00"/>
<circle cx="470.42" cy="633.75" r="7.75" fill="#fff000"/>
<circle cx="486.48" cy="633.75" r="7.75" fill="#ffd800"/>
<circle cx="502.53" cy="633.75" r="7.75" fill="#ffd000"/>
<circle cx="518.58" cy="633.75" r="7.75" fill="#ffd000"/>
<circle cx="534.63" cy="633.75" r="7.75" fill="#ffc800"/>
<circle cx="550.69" cy="633.75" r="7.75" fill="#ff8800"/>
<circle cx="566.74" cy="633.75" r="7.75" fill="#ff7000"/>
<circle cx="582.79" cy="633.75" r="7.75" fill="#ff4000"/>
<circle cx="598.85" cy="633.75" r="7.75" fill="#ff6000"/>
<circle cx="614.90" cy="633.75" r="7.75" fill="#f00000"/>
<circle cx="630.95" cy="633.75" r="7.75" fill="#ff3000"/>
<circle cx="647.00" cy="633.75" r="7.75" fill="#ff7000"/>
<circle cx="663.06" cy="633.75" r="7.75" fill="#ffa000"/>
<circle cx="679.11" cy="633.75" r="7.75" fill="#ffd000"/>
<circle cx="695.16" cy="633.75" r="7.75" fill="#ffd000"/>
<circle cx="711.22" cy="633.75" r="7.75" fill="#f8ff00"/>
<circle cx="727.27" cy="633.75" r="7.75" fill="#e8ff00"/>
<circle cx="743.32" cy="633.75" r="7.75" fill="#a0ff00"/>
<circle cx="759.38" cy="633.75" r="7.75" fill="#80ff00"/>
<circle cx="775.43" cy="633.75" r="7.75" fill="#29ff40"/>
<circle cx="791.48" cy="633.75" r="7.75" fill="#29ff40"/>
<circle cx="807.53" cy="633.75" r="7.75" fill="#42ff80"/>
<circle cx="189.49" cy="619.90" r="7.75" fill="#3f48ff"/>
<circle cx="205.55" cy="619.90" r="7.75" fill="#5070ff"/>
<circle cx="221.60" cy="619.90" r="7.75" fill="#5275ff"/>
<circle cx="237.65" cy="619.90" r="7.75" fill="#57a8ff"/>
<circle cx="253.71" cy="619.90" r="7.75" fill="#56b0ff"/>
<circle cx="269.76" cy="619.90" r="7.75" fill="#13fcff"/>
<circle cx="285.81" cy="619.90" r="7.75" fill="#3effd0"/>
<circle cx="301.87" cy="619.90" r="7.75" fill="#46ffa1"/>
<circle cx="317.92" cy="619.90" r="7.75" fill="#45ff90"/>
<circle cx="333.97" cy="619.90" r="7.75" fill="#23ff37"/>
<circle cx="350.02" cy="619.90" r="7.75" fill="#38ff60"/>
<circle cx="366.08" cy="619.90" r="7.75" fill="#60ff00"/>
<circle cx="382.13" cy="619.90" r="7.75" fill="#70ff00"/>
<circle cx="398.18" cy="619.90" r="7.75" fill="#60ff00"/>
<circle cx="414.24" cy="619.90" r="7.75" fill="#70ff00"/>
<circle cx="430.29" cy="619.90" r="7.75" fill="#b0ff00"/>
<circle cx="446.34" cy="619.90" r="7.75" fill="#c0ff00"/>
<circle cx="462.40" cy="619.90" r="7.75" fill="#fff000"/>
<circle cx="478.45" cy="619.90" r="7.75" fill="#ffd000"/>
<circle cx="494.50" cy="619.90" r="7.75" fill="#ffc800"/>
<circle cx="510.55" cy="619.90" r="7.75" fill="#ffc000"/>
<circle cx="526.61" cy="619.90" r="7.75" fill="#ffc000"/>
<circle cx="542.66" cy="619.90" r="7.75" fill="#ffa800"/>
<circle cx="558.71" cy="619.90" r="7.75" fill="#ff6000"/>
<circle cx="574.77" cy="619.90" r="7.75" fill="#ff6800"/>
<circle cx="590.82" cy="619.90" r="7.75" fill="#ff6000"/>
<circle cx="606.87" cy="619.90" r="7.75" fill="#ff7000"/>
<circle cx="622.93" cy="619.90" r="7.75" fill="#ff4000"/>
<circle cx="638.98" cy="619.90" r="7.75" fill="#ff8000"/>
<circle cx="655.03" cy="619.90" r="7.75" fill="#ff9000"/>
<circle cx="671.08" cy="619.90" r="7.75" fill="#ffa800"/>
<circle cx="687.14" cy="619.90" r="7.75" fill="#ffd800"/>
<circle cx="703.19" cy="619.90" r="7.75" fill="#ffe000"/>
<circle cx="719.24" cy="619.90" r="7.75" fill="#e8ff00"/>
<circle cx="735.30" cy="619.90" r="7.75" fill="#d8ff00"/>
<circle cx="751.35" cy="619.90" r="7.75" fill="#80ff00"/>
<circle cx="767.40" cy="619.90" r="7.75" fill="#80ff00"/>
<circle cx="783.46" cy="619.90" r="7.75" fill="#29ff40"/>
<circle cx="799.51" cy="619.90" r="7.75" fill="#31ff50"/>
<circle cx="197.52" cy="606.04" r="7.75" fill="#4350ff"/>
<circle cx="213.57" cy="606.04" r="7.75" fill="#5070ff"/>
<circle cx="229.63" cy="606.04" r="7.75" fill="#5790ff"/>
<circle cx="245.68" cy="606.04" r="7.75" fill="#57a8ff"/>
<circle cx="261.73" cy="606.04" r="7.75" fill="#52c0ff"/>
<circle cx="277.79" cy="606.04" r="7.75" fill="#35ffe0"/>
<circle cx="293.84" cy="606.04" r="7.75" fill="#3effd0"/>
<circle cx="309.89" cy="606.04" r="7.75" fill="#45ff90"/>
<circle cx="325.95" cy="606.04" r="7.75" fill="#3eff70"/>
<circle cx="342.00" cy="606.04" r="7.75" fill="#38ff60"/>
<circle cx="358.05" cy="606.04" r="7.75" fill="#29ff40"/>
<circle cx="374.10" cy="606.04" r="7.75" fill="#70ff00"/>
<circle cx="390.16" cy="606.04" r="7.75" fill="#29ff40"/>
<circle cx="406.21" cy="606.04" r="7.75" fill="#60ff00"/>
<circle cx="422.26" cy="606.04" r="7.75" fill="#90ff00"/>
<circle cx="438.32" cy="606.04" r="7.75" fill="#c8ff00"/>
<circle cx="454.37" cy="606.04" r="7.75" fill="#d8ff00"/>
<circle cx="470.42" cy="606.04" r="7.75" fill="#ffe800"/>
<circle cx="486.48" cy="606.04" r="7.75" fill="#ffd800"/>
<circle cx="502.53" cy="606.04" r="7.75" fill="#ffc800"/>
<circle cx="518.58" cy="606.04" r="7.75" fill="#ffc000"/>
<circle cx="534.63" cy="606.04" r="7.75" fill="#ffa800"/>
<circle cx="550.69" cy="606.04" r="7.75" fill="#ffa000"/>
<circle cx="566.74" cy="606.04" r="7.75" fill="#ff6800"/>
<circle cx="582.79" cy="606.04" r="7.75" fill="#ff7000"/>
<circle cx="598.85" cy="606.04" r="7.75" fill="#ff7800"/>
<circle cx="614.90" cy="606.04" r="7.75" fill="#ff9000"/>
<circle cx="630.95" cy="606.04" r="7.75" fill="#ff6000"/>
<circle cx="647.00" cy="606.04" r="7.75" fill="#ff8000"/>
<circle cx="663.06" cy="606.04" r="7.75" fill="#ffa000"/>
<circle cx="679.11" cy="606.04" r="7.75" fill="#ffb800"/>
<circle cx="695.16" cy="606.04" r="7.75" fill="#ffd800"/>
<circle cx="711.22" cy="606.04" r="7.75" fill="#f8ff00"/>
<circle cx="727.27" cy="606.04" r="7.75" fill="#d8ff00"/>
<circle cx="743.32" cy="606.04" r="7.75" fill="#c8ff00"/>
<circle cx="759.38" cy="606.04" r="7.75" fill="#60ff00"/>
<circle cx="775.43" cy="606.04" r="7.75" fill="#60ff00"/>
<circle cx="791.48" cy="606.04" r="7.75" fill="#31ff50"/>
<circle cx="205.55" cy="592.19" r="7.75" fill="#5070ff"/>
<circle cx="221.60" cy="592.19" r="7.75" fill="#5790ff"/>
<circle cx="237.65" cy="592.19" r="7.75" fill="#58a0ff"/>
<circle cx="253.71" cy="592.19" r="7.75" fill="#4fc9ff"/>
<circle cx="269.76" cy="592.19" r="7.75" fill="#08feff"/>
<circle cx="285.81" cy="592.19" r="7.75" fill="#43ffc0"/>
<circle cx="301.87" cy="592.19" r="7.75" fill="#45ffb0"/>
<circle cx="317.92" cy="592.19" r="7.75" fill="#3eff70"/>
<circle cx="333.97" cy="592.19" r="7.75" fill="#42ff80"/>
<circle cx="350.02" cy="592.19" r="7.75" fill="#31ff50"/>
<circle cx="366.08" cy="592.19" r="7.75" fill="#09ff10"/>
<circle cx="382.13" cy="592.19" r="7.75" fill="#31ff50"/>
<circle cx="398.18" cy="592.19" r="7.75" fill="#29ff40"/>
<circle cx="414.24" cy="592.19" r="7.75" fill="#90ff00"/>
<circle cx="430.29" cy="592.19" r="7.75" fill="#a0ff00"/>
<circle cx="446.34" cy="592.19" r="7.75" fill="#d8ff00"/>
<circle cx="462.40" cy="592.19" r="7.75" fill="#f8ff00"/>
<circle cx="478.45" cy="592.19" r="7.75" fill="#ffd800"/>
<circle cx="494.50" cy="592.19" r="7.75" fill="#ffd000"/>
<circle cx="510.55" cy="592.19" r="7.75" fill="#ffc000"/>
<circle cx="526.61" cy="592.19" r="7.75" fill="#ffa800"/>
<circle cx="542.66" cy="592.19" r="7.75" fill="#ffa000"/>
<circle cx="558.71" cy="592.19" r="7.75" fill="#ff9800"/>
<circle cx="574.77" cy="592.19" r="7.75" fill="#ff6800"/>
<circle cx="590.82" cy="592.19" r="7.75" fill="#ff8800"/>
<circle cx="606.87" cy="592.19" r="7.75" fill="#ff9800"/>
<circle cx="622.93" cy="592.19" r="7.75" fill="#ffa000"/>
<circle cx="638.98" cy="592.19" r="7.75" fill="#ff7800"/>
<circle cx="655.03" cy="592.19" r="7.75" fill="#ff9000"/>
<circle cx="671.08" cy="592.19" r="7.75" fill="#ffb000"/>
<circle cx="687.14" cy="592.19" r="7.75" fill="#ffc000"/>
<circle cx="703.19" cy="592.19" r="7.75" fill="#ffff00"/>
<circle cx="719.24" cy="592.19" r="7.75" fill="#f0ff00"/>
<circle cx="735.30" cy="592.19" r="7.75" fill="#c8ff00"/>
<circle cx="751.35" cy="592.19" r="7.75" fill="#b0ff00"/>
<circle cx="767.40" cy="592.19" r="7.75" fill="#60ff00"/>
<circle cx="783.46" cy="592.19" r="7.75" fill="#50ff00"/>
<circle cx="213.57" cy="578.34" r="7.75" fill="#5580ff"/>
<circle cx="229.63" cy="578.34" r="7.75" fill="#58a0ff"/>
<circle cx="245.68" cy="578.34" r="7.75" fill="#57a8ff"/>
<circle cx="261.73" cy="578.34" r="7.75" fill="#20f8ff"/>
<circle cx="277.79" cy="578.34" r="7.75" fill="#3effd0"/>
<circle cx="293.84" cy="578.34" r="7.75" fill="#46ff98"/>
<circle cx="309.89" cy="578.34" r="7.75" fill="#45ff90"/>
<circle cx="325.95" cy="578.34" r="7.75" fill="#45ff90"/>
<circle cx="342.00" cy="578.34" r="7.75" fill="#3eff70"/>
<circle cx="358.05" cy="578.34" r="7.75" fill="#14ff20"/>
<circle cx="374.10" cy="578.34" r="7.75" fill="#3eff70"/>
<circle cx="390.16" cy="578.34" r="7.75" fill="#15ff21"/>
<circle cx="406.21" cy="578.34" r="7.75" fill="#70ff00"/>
<circle cx="422.26" cy="578.34" r="7.75" fill="#a0ff00"/>
<circle cx="438.32" cy="578.34" r="7.75" fill="#c0ff00"/>
<circle cx="454.37" cy="578.34" r="7.75" fill="#f8ff00"/>
<circle cx="470.42" cy="578.34" r="7.75" fill="#fffb00"/>
<circle cx="486.48" cy="578.34" r="7.75" fill="#ffd000"/>
<circle cx="502.53" cy="578.34" r="7.75" fill="#ffc800"/>
<circle cx="518.58" cy="578.34" r="7.75" fill="#ffa800"/>
<circle cx="534.63" cy="578.34" r="7.75" fill="#ffa000"/>
<circle cx="550.69" cy="578.34" r="7.75" fill="#ff9800"/>
<circle cx="566.74" cy="578.34" r="7.75" fill="#ffa000"/>
<circle cx="582.79" cy="578.34" r="7.75" fill="#ff8000"/>
<circle cx="598.85" cy="578.34" r="7.75" fill="#ffa000"/>
<circle cx="614.90" cy="578.34" r="7.75" fill="#ffa800"/>
<circle cx="630.95" cy="578.34" r="7.75" fill="#ffa800"/>
<circle cx="647.00" cy="578.34" r="7.75" fill="#ff8800"/>
<circle cx="663.06" cy="578.34" r="7.75" fill="#ffa000"/>
<circle cx="679.11" cy="578.34" r="7.75" fill="#ffc000"/>
<circle cx="695.16" cy="578.34" r="7.75" fill="#ffc800"/>
<circle cx="711.22" cy="578.34" r="7.75" fill="#e8ff00"/>
<circle cx="727.27" cy="578.34" r="7.75" fill="#d8ff00"/>
<circle cx="743.32" cy="578.34" r="7.75" fill="#b8ff00"/>
<circle cx="759.38" cy="578.34" r="7.75" fill="#b0ff00"/>
<circle cx="775.43" cy="578.34" r="7.75" fill="#50ff00"/>
<circle cx="221.60" cy="564.48" r="7.75" fill="#5898ff"/>
<circle cx="237.65" cy="564.48" r="7.75" fill="#57a8ff"/>
<circle cx="253.71" cy="564.48" r="7.75" fill="#4fc9ff"/>
<circle cx="269.76" cy="564.48" r="7.75" fill="#20f8ff"/>
<circle cx="285.81" cy="564.48" r="7.75" fill="#3effd0"/>
<circle cx="301.87" cy="564.48" r="7.75" fill="#42ff80"/>
<circle cx="317.92" cy="564.48" r="7.75" fill="#45ff90"/>
<circle cx="333.97" cy="564.48" r="7.75" fill="#3eff70"/>
<circle cx="350.02" cy="564.48" r="7.75" fill="#3eff70"/>
<circle cx="366.08" cy="564.48" r="7.75" fill="#3eff70"/>
<circle cx="382.13" cy="564.48" r="7.75" fill="#29ff40"/>
<circle cx="398.18" cy="564.48" r="7.75" fill="#60ff00"/>
<circle cx="414.24" cy="564.48" r="7.75" fill="#80ff00"/>
<circle cx="430.29" cy="564.48" r="7.75" fill="#b0ff00"/>
<circle cx="446.34" cy="564.48" r="7.75" fill="#d0ff00"/>
<circle cx="462.40" cy="564.48" r="7.75" fill="#f0ff00"/>
<circle cx="478.45" cy="564.48" r="7.75" fill="#ffe000"/>
<circle cx="494.50" cy="564.48" r="7.75" fill="#ffc000"/>
<circle cx="510.55" cy="564.48" r="7.75" fill="#ffb000"/>
<circle cx="526.61" cy="564.48" r="7.75" fill="#ff9800"/>
<circle cx="542.66" cy="564.48" r="7.75" fill="#ffa000"/>
<circle cx="558.71" cy="564.48" r="7.75" fill="#ff9800"/>
<circle cx="574.77" cy="564.48" r="7.75" fill="#ffa800"/>
<circle cx="590.82" cy="564.48" r="7.75" fill="#ffa000"/>
<circle cx="606.87" cy="564.48" r="7.75" fill="#ffb000"/>
<circle cx="622.93" cy="564.48" r="7.75" fill="#ffb800"/>
<circle cx="638.98" cy="564.48" r="7.75" fill="#ffc000"/>
<circle cx="655.03" cy="564.48" r="7.75" fill="#ffa000"/>
<circle cx="671.08" cy="564.48" r="7.75" fill="#ffa000"/>
<circle cx="687.14" cy="564.48" r="7.75" fill="#ffd000"/>
<circle cx="703.19" cy="564.48" r="7.75" fill="#ffd800"/>
<circle cx="719.24" cy="564.48" r="7.75" fill="#d0ff00"/>
<circle cx="735.30" cy="564.48" r="7.75" fill="#d0ff00"/>
<circle cx="751.35" cy="564.48" r="7.75" fill="#b0ff00"/>
<circle cx="767.40" cy="564.48" r="7.75" fill="#a0ff00"/>
<circle cx="229.63" cy="550.63" r="7.75" fill="#57a8ff"/>
<circle cx="245.68" cy="550.63" r="7.75" fill="#4fc9ff"/>
<circle cx="261.73" cy="550.63" r="7.75" fill="#20f8ff"/>
<circle cx="277.79" cy="550.63" r="7.75" fill="#3effd0"/>
<circle cx="293.84" cy="550.63" r="7.75" fill="#46ffa8"/>
<circle cx="309.89" cy="550.63" r="7.75" fill="#46ff98"/>
<circle cx="325.95" cy="550.63" r="7.75" fill="#45ff90"/>
<circle cx="342.00" cy="550.63" r="7.75" fill="#31ff50"/>
<circle cx="358.05" cy="550.63" r="7.75" fill="#42ff80"/>
<circle cx="374.10" cy="550.63" r="7.75" fill="#31ff50"/>
<circle cx="390.16" cy="550.63" r="7.75" fill="#41ff00"/>
<circle cx="406.21" cy="550.63" r="7.75" fill="#80ff00"/>
<circle cx="422.26" cy="550.63" r="7.75" fill="#a0ff00"/>
<circle cx="438.32" cy="550.63" r="7.75" fill="#c8ff00"/>
<circle cx="454.37" cy="550.63" r="7.75" fill="#e0ff00"/>
<circle cx="470.42" cy="550.63" r="7.75" fill="#ffe800"/>
<circle cx="486.48" cy="550.63" r="7.75" fill="#ffd000"/>
<circle cx="502.53" cy="550.63" r="7.75" fill="#ffb000"/>
<circle cx="518.58" cy="550.63" r="7.75" fill="#ffa800"/>
<circle cx="534.63" cy="550.63" r="7.75" fill="#ff9800"/>
<circle cx="550.69" cy="550.63" r="7.75" fill="#ffa000"/>
<circle cx="566.74" cy="550.63" r="7.75" fill="#ffa800"/>
<circle cx="582.79" cy="550.63" r="7.75" fill="#ffc000"/>
<circle cx="598.85" cy="550.63" r="7.75" fill="#ffb000"/>
<circle cx="614.90" cy="550.63" r="7.75" fill="#ffb800"/>
<circle cx="630.95" cy="550.63" r="7.75" fill="#ffb800"/>
<circle cx="647.00" cy="550.63" r="7.75" fill="#ffd000"/>
<circle cx="663.06" cy="550.63" r="7.75" fill="#ffa800"/>
<circle cx="679.11" cy="550.63" r="7.75" fill="#ffc000"/>
<circle cx="695.16" cy="550.63" r="7.75" fill="#ffe000"/>
<circle cx="711.22" cy="550.63" r="7.75" fill="#f0ff00"/>
<circle cx="727.27" cy="550.63" r="7.75" fill="#c8ff00"/>
<circle cx="743.32" cy="550.63" r="7.75" fill="#c8ff00"/>
<circle cx="759.38" cy="550.63" r="7.75" fill="#a0ff00"/>
<circle cx="237.65" cy="536.77" r="7.75" fill="#53beff"/>
<circle cx="253.71" cy="536.77" r="7.75" fill="#2df1ff"/>
<circle cx="269.76" cy="536.77" r="7.75" fill="#35ffe0"/>
<circle cx="285.81" cy="536.77" r="7.75" fill="#43ffc0"/>
<circle cx="301.87" cy="536.77" r="7.75" fill="#45ffb0"/>
<circle cx="317.92" cy="536.77" r="7.75" fill="#42ff80"/>
<circle cx="333.97" cy="536.77" r="7.75" fill="#42ff80"/>
<circle cx="350.02" cy="536.77" r="7.75" fill="#42ff80"/>
<circle cx="366.08" cy="536.77" r="7.75" fill="#3eff70"/>
<circle cx="382.13" cy="536.77" r="7.75" fill="#40ff00"/>
<circle cx="398.18" cy="536.77" r="7.75" fill="#60ff00"/>
<circle cx="414.24" cy="536.77" r="7.75" fill="#a0ff00"/>
<circle cx="430.29" cy="536.77" r="7.75" fill="#b0ff00"/>
<circle cx="446.34" cy="536.77" r="7.75" fill="#d8ff00"/>
<circle cx="462.40" cy="536.77" r="7.75" fill="#e8ff00"/>
<circle cx="478.45" cy="536.77" r="7.75" fill="#ffd800"/>
<circle cx="494.50" cy="536.77" r="7.75" fill="#ffd000"/>
<circle cx="510.55" cy="536.77" r="7.75" fill="#ffa800"/>
<circle cx="526.61" cy="536.77" r="7.75" fill="#ffa800"/>
<circle cx="542.66" cy="536.77" r="7.75" fill="#ffa000"/>
<circle cx="558.71" cy="536.77" r="7.75" fill="#ffa800"/>
<circle cx="574.77" cy="536.77" r="7.75" fill="#ffb800"/>
<circle cx="590.82" cy="536.77" r="7.75" fill="#ffc800"/>
<circle cx="606.87" cy="536.77" r="7.75" fill="#ffb800"/>
<circle cx="622.93" cy="536.77" r="7.75" fill="#ffc000"/>
<circle cx="638.98" cy="536.77" r="7.75" fill="#ffc000"/>
<circle cx="655.03" cy="536.77" r="7.75" fill="#ffd000"/>
<circle cx="671.08" cy="536.77" r="7.75" fill="#ffc000"/>
<circle cx="687.14" cy="536.77" r="7.75" fill="#ffc800"/>
<circle cx="703.19" cy="536.77" r="7.75" fill="#fff700"/>
<circle cx="719.24" cy="536.77" r="7.75" fill="#f0ff00"/>
<circle cx="735.30" cy="536.77" r="7.75" fill="#c8ff00"/>
<circle cx="751.35" cy="536.77" r="7.75" fill="#b8ff00"/>
<circle cx="245.68" cy="522.92" r="7.75" fill="#4cd0ff"/>
<circle cx="261.73" cy="522.92" r="7.75" fill="#26fff0"/>
<circle cx="277.79" cy="522.92" r="7.75" fill="#3affd8"/>
<circle cx="293.84" cy="522.92" r="7.75" fill="#43ffc0"/>
<circle cx="309.89" cy="522.92" r="7.75" fill="#44ffb8"/>
<circle cx="325.95" cy="522.92" r="7.75" fill="#3eff70"/>
<circle cx="342.00" cy="522.92" r="7.75" fill="#46ff98"/>
<circle cx="358.05" cy="522.92" r="7.75" fill="#45ff90"/>
<circle cx="374.10" cy="522.92" r="7.75" fill="#29ff40"/>
<circle cx="390.16" cy="522.92" r="7.75" fill="#60ff00"/>
<circle cx="406.21" cy="522.92" r="7.75" fill="#80ff00"/>
<circle cx="422.26" cy="522.92" r="7.75" fill="#a0ff00"/>
<circle cx="438.32" cy="522.92" r="7.75" fill="#b0ff00"/>
<circle cx="454.37" cy="522.92" r="7.75" fill="#d0ff00"/>
<circle cx="470.42" cy="522.92" r="7.75" fill="#e8ff00"/>
<circle cx="486.48" cy="522.92" r="7.75" fill="#ffd800"/>
<circle cx="502.53" cy="522.92" r="7.75" fill="#ffc800"/>
<circle cx="518.58" cy="522.92" r="7.75" fill="#ffa800"/>
<circle cx="534.63" cy="522.92" r="7.75" fill="#ffb000"/>
<circle cx="550.69" cy="522.92" r="7.75" fill="#ffa800"/>
<circle cx="566.74" cy="522.92" r="7.75" fill="#ffb000"/>
<circle cx="582.79" cy="522.92" r="7.75" fill="#ffc000"/>
<circle cx="598.85" cy="522.92" r="7.75" fill="#ffc800"/>
<circle cx="614.90" cy="522.92" r="7.75" fill="#ffc000"/>
<circle cx="630.95" cy="522.92" r="7.75" fill="#ffc800"/>
<circle cx="647.00" cy="522.92" r="7.75" fill="#ffd000"/>
<circle cx="663.06" cy="522.92" r="7.75" fill="#ffd800"/>
<circle cx="679.11" cy="522.92" r="7.75" fill="#ffc800"/>
<circle cx="695.16" cy="522.92" r="7.75" fill="#ffd800"/>
<circle cx="711.22" cy="522.92" r="7.75" fill="#e8ff00"/>
<circle cx="727.27" cy="522.92" r="7.75" fill="#e0ff00"/>
<circle cx="743.32" cy="522.92" r="7.75" fill="#b0ff00"/>
<circle cx="253.71" cy="509.07" r="7.75" fill="#03ffff"/>
<circle cx="269.76" cy="509.07" r="7.75" fill="#3affd8"/>
<circle cx="285.81" cy="509.07" r="7.75" fill="#3affd8"/>
<circle cx="301.87" cy="509.07" r="7.75" fill="#45ffb0"/>
<circle cx="317.92" cy="509.07" r="7.75" fill="#46ffa8"/>
<circle cx="333.97" cy="509.07" r="7.75" fill="#46ff98"/>
<circle cx="350.02" cy="509.07" r="7.75" fill="#46ff98"/>
<circle cx="366.08" cy="509.07" r="7.75" fill="#29ff40"/>
<circle cx="382.13" cy="509.07" r="7.75" fill="#0bff13"/>
<circle cx="398.18" cy="509.07" r="7.75" fill="#70ff00"/>
<circle cx="414.24" cy="509.07" r="7.75" fill="#90ff00"/>
<circle cx="430.29" cy="509.07" r="7.75" fill="#a8ff00"/>
<circle cx="446.34" cy="509.07" r="7.75" fill="#b8ff00"/>
<circle cx="462.40" cy="509.07" r="7.75" fill="#f8ff00"/>
<circle cx="478.45" cy="509.07" r="7.75" fill="#fff000"/>
<circle cx="494.50" cy="509.07" r="7.75" fill="#ffc800"/>
<circle cx="510.55" cy="509.07" r="7.75" fill="#ffc000"/>
<circle cx="526.61" cy="509.07" r="7.75" fill="#ffa800"/>
<circle cx="542.66" cy="509.07" r="7.75" fill="#ffb800"/>
<circle cx="558.71" cy="509.07" r="7.75" fill="#ffa800"/>
<circle cx="574.77" cy="509.07" r="7.75" fill="#ffc800"/>
<circle cx="590.82" cy="509.07" r="7.75" fill="#ffd000"/>
<circle cx="606.87" cy="509.07" r="7.75" fill="#ffd800"/>
<circle cx="622.93" cy="509.07" r="7.75" fill="#ffd000"/>
<circle cx="638.98" cy="509.07" r="7.75" fill="#ffd000"/>
<circle cx="655.03" cy="509.07" r="7.75" fill="#ffd800"/>
<circle cx="671.08" cy="509.07" r="7.75" fill="#ffe000"/>
<circle cx="687.14" cy="509.07" r="7.75" fill="#ffe800"/>
<circle cx="703.19" cy="509.07" r="7.75" fill="#ffe800"/>
<circle cx="719.24" cy="509.07" r="7.75" fill="#d8ff00"/>
<circle cx="735.30" cy="509.07" r="7.75" fill="#d0ff00"/>
<circle cx="261.73" cy="495.21" r="7.75" fill="#3affd8"/>
<circle cx="277.79" cy="495.21" r="7.75" fill="#35ffe0"/>
<circle cx="293.84" cy="495.21" r="7.75" fill="#3effd0"/>
<circle cx="309.89" cy="495.21" r="7.75" fill="#46ff98"/>
<circle cx="325.95" cy="495.21" r="7.75" fill="#45ffb0"/>
<circle cx="342.00" cy="495.21" r="7.75" fill="#3eff70"/>
<circle cx="358.05" cy="495.21" r="7.75" fill="#3eff70"/>
<circle cx="374.10" cy="495.21" r="7.75" fill="#09ff10"/>
<circle cx="390.16" cy="495.21" r="7.75" fill="#60ff00"/>
<circle cx="406.21" cy="495.21" r="7.75" fill="#90ff00"/>
<circle cx="422.26" cy="495.21" r="7.75" fill="#a8ff00"/>
<circle cx="438.32" cy="495.21" r="7.75" fill="#b8ff00"/>
<circle cx="454.37" cy="495.21" r="7.75" fill="#c8ff00"/>
<circle cx="470.42" cy="495.21" r="7.75" fill="#f0ff00"/>
<circle cx="486.48" cy="495.21" r="7.75" fill="#ffd800"/>
<circle cx="502.53" cy="495.21" r="7.75" fill="#ffc000"/>
<circle cx="518.58" cy="495.21" r="7.75" fill="#ffc800"/>
<circle cx="534.63" cy="495.21" r="7.75" fill="#ffb800"/>
<circle cx="550.69" cy="495.21" r="7.75" fill="#ffc800"/>
<circle cx="566.74" cy="495.21" r="7.75" fill="#ffc800"/>
<circle cx="582.79" cy="495.21" r="7.75" fill="#ffc800"/>
<circle cx="598.85" cy="495.21" r="7.75" fill="#ffd800"/>
<circle cx="614.90" cy="495.21" r="7.75" fill="#ffe000"/>
<circle cx="630.95" cy="495.21" r="7.75" fill="#ffd000"/>
<circle cx="647.00" cy="495.21" r="7.75" fill="#ffd800"/>
<circle cx="663.06" cy="495.21" r="7.75" fill="#ffe800"/>
<circle cx="679.11" cy="495.21" r="7.75" fill="#f8ff00"/>
<circle cx="695.16" cy="495.21" r="7.75" fill="#fff000"/>
<circle cx="711.22" cy="495.21" r="7.75" fill="#f8ff00"/>
<circle cx="727.27" cy="495.21" r="7.75" fill="#c8ff00"/>
<circle cx="269.76" cy="481.36" r="7.75" fill="#2fffe8"/>
<circle cx="285.81" cy="481.36" r="7.75" fill="#40ffc8"/>
<circle cx="301.87" cy="481.36" r="7.75" fill="#44ffb8"/>
<circle cx="317.92" cy="481.36" r="7.75" fill="#45ffb0"/>
<circle cx="333.97" cy="481.36" r="7.75" fill="#46ffa0"/>
<circle cx="350.02" cy="481.36" r="7.75" fill="#3eff70"/>
<circle cx="366.08" cy="481.36" r="7.75" fill="#31ff50"/>
<circle cx="382.13" cy="481.36" r="7.75" fill="#60ff00"/>
<circle cx="398.18" cy="481.36" r="7.75" fill="#70ff00"/>
<circle cx="414.24" cy="481.36" r="7.75" fill="#a0ff00"/>
<circle cx="430.29" cy="481.36" r="7.75" fill="#a8ff00"/>
<circle cx="446.34" cy="481.36" r="7.75" fill="#c8ff00"/>
<circle cx="462.40" cy="481.36" r="7.75" fill="#e0ff00"/>
<circle cx="478.45" cy="481.36" r="7.75" fill="#ffe000"/>
<circle cx="494.50" cy="481.36" r="7.75" fill="#ffd800"/>
<circle cx="510.55" cy="481.36" r="7.75" fill="#ffc000"/>
<circle cx="526.61" cy="481.36" r="7.75" fill="#ffd000"/>
<circle cx="542.66" cy="481.36" r="7.75" fill="#ffc800"/>
<circle cx="558.71" cy="481.36" r="7.75" fill="#ffc800"/>
<circle cx="574.77" cy="481.36" r="7.75" fill="#ffc800"/>
<circle cx="590.82" cy="481.36" r="7.75" fill="#ffd800"/>
<circle cx="606.87" cy="481.36" r="7.75" fill="#ffe000"/>
<circle cx="622.93" cy="481.36" r="7.75" fill="#ffe000"/>
<circle cx="638.98" cy="481.36" r="7.75" fill="#ffd800"/>
<circle cx="655.03" cy="481.36" r="7.75" fill="#ffe800"/>
<circle cx="671.08" cy="481.36" r="7.75" fill="#f8ff00"/>
<circle cx="687.14" cy="481.36" r="7.75" fill="#f0ff00"/>
<circle cx="703.19" cy="481.36" r="7.75" fill="#f8ff00"/>
<circle cx="719.24" cy="481.36" r="7.75" fill="#f0ff00"/>
<circle cx="277.79" cy="467.50" r="7.75" fill="#3affd8"/>
<circle cx="293.84" cy="467.50" r="7.75" fill="#40ffc8"/>
<circle cx="309.89" cy="467.50" r="7.75" fill="#3affd8"/>
<circle cx="325.95" cy="467.50" r="7.75" fill="#46ffa0"/>
<circle cx="342.00" cy="467.50" r="7.75" fill="#45ff90"/>
<circle cx="358.05" cy="467.50" r="7.75" fill="#29ff40"/>
<circle cx="374.10" cy="467.50" r="7.75" fill="#0bff13"/>
<circle cx="390.16" cy="467.50" r="7.75" fill="#80ff00"/>
<circle cx="406.21" cy="467.50" r="7.75" fill="#90ff00"/>
<circle cx="422.26" cy="467.50" r="7.75" fill="#a8ff00"/>
<circle cx="438.32" cy="467.50" r="7.75" fill="#b8ff00"/>
<circle cx="454.37" cy="467.50" r="7.75" fill="#d8ff00"/>
<circle cx="470.42" cy="467.50" r="7.75" fill="#e8ff00"/>
<circle cx="486.48" cy="467.50" r="7.75" fill="#ffd800"/>
<circle cx="502.53" cy="467.50" r="7.75" fill="#ffd800"/>
<circle cx="518.58" cy="467.50" r="7.75" fill="#ffd000"/>
<circle cx="534.63" cy="467.50" r="7.75" fill="#ffd800"/>
<circle cx="550.69" cy="467.50" r="7.75" fill="#ffd000"/>
<circle cx="566.74" cy="467.50" r="7.75" fill="#ffd000"/>
<circle cx="582.79" cy="467.50" r="7.75" fill="#ffd800"/>
<circle cx="598.85" cy="467.50" r="7.75" fill="#ffd800"/>
<circle cx="614.90" cy="467.50" r="7.75" fill="#ffe000"/>
<circle cx="630.95" cy="467.50" r="7.75" fill="#ffe800"/>
<circle cx="647.00" cy="467.50" r="7.75" fill="#ffe800"/>
<circle cx="663.06" cy="467.50" r="7.75" fill="#f8ff00"/>
<circle cx="679.11" cy="467.50" r="7.75" fill="#e8ff00"/>
<circle cx="695.16" cy="467.50" r="7.75" fill="#e8ff00"/>
<circle cx="711.22" cy="467.50" r="7.75" fill="#e8ff00"/>
<circle cx="285.81" cy="453.65" r="7.75" fill="#3effd0"/>
<circle cx="301.87" cy="453.65" r="7.75" fill="#3affd8"/>
<circle cx="317.92" cy="453.65" r="7.75" fill="#45ffb0"/>
<circle cx="333.97" cy="453.65" r="7.75" fill="#45ff90"/>
<circle cx="350.02" cy="453.65" r="7.75" fill="#45ff90"/>
<circle cx="366.08" cy="453.65" r="7.75" fill="#09ff10"/>
<circle cx="382.13" cy="453.65" r="7.75" fill="#40ff00"/>
<circle cx="398.18" cy="453.65" r="7.75" fill="#80ff00"/>
<circle cx="414.24" cy="453.65" r="7.75" fill="#90ff00"/>
<circle cx="430.29" cy="453.65" r="7.75" fill="#c0ff00"/>
<circle cx="446.34" cy="453.65" r="7.75" fill="#c8ff00"/>
<circle cx="462.40" cy="453.65" r="7.75" fill="#e0ff00"/>
<circle cx="478.45" cy="453.65" r="7.75" fill="#f0ff00"/>
<circle cx="494.50" cy="453.65" r="7.75" fill="#ffe000"/>
<circle cx="510.55" cy="453.65" r="7.75" fill="#ffd800"/>
<circle cx="526.61" cy="453.65" r="7.75" fill="#ffd800"/>
<circle cx="542.66" cy="453.65" r="7.75" fill="#ffd000"/>
<circle cx="558.71" cy="453.65" r="7.75" fill="#ffd000"/>
<circle cx="574.77" cy="453.65" r="7.75" fill="#ffd800"/>
<circle cx="590.82" cy="453.65" r="7.75" fill="#ffd800"/>
<circle cx="606.87" cy="453.65" r="7.75" fill="#ffd800"/>
<circle cx="622.93" cy="453.65" r="7.75" fill="#ffe800"/>
<circle cx="638.98" cy="453.65" r="7.75" fill="#f8ff00"/>
<circle cx="655.03" cy="453.65" r="7.75" fill="#f0ff00"/>
<circle cx="671.08" cy="453.65" r="7.75" fill="#e8ff00"/>
<circle cx="687.14" cy="453.65" r="7.75" fill="#e0ff00"/>
<circle cx="703.19" cy="453.65" r="7.75" fill="#d0ff00"/>
<circle cx="293.84" cy="439.80" r="7.75" fill="#3affd8"/>
<circle cx="309.89" cy="439.80" r="7.75" fill="#44ffb8"/>
<circle cx="325.95" cy="439.80" r="7.75" fill="#46ffa8"/>
<circle cx="342.00" cy="439.80" r="7.75" fill="#42ff80"/>
<circle cx="358.05" cy="439.80" r="7.75" fill="#3eff70"/>
<circle cx="374.10" cy="439.80" r="7.75" fill="#60ff00"/>
<circle cx="390.16" cy="439.80" r="7.75" fill="#70ff00"/>
<circle cx="406.21" cy="439.80" r="7.75" fill="#80ff00"/>
<circle cx="422.26" cy="439.80" r="7.75" fill="#a8ff00"/>
<circle cx="438.32" cy="439.80" r="7.75" fill="#c8ff00"/>
<circle cx="454.37" cy="439.80" r="7.75" fill="#e0ff00"/>
<circle cx="470.42" cy="439.80" r="7.75" fill="#f0ff00"/>
<circle cx="486.48" cy="439.80" r="7.75" fill="#fff000"/>
<circle cx="502.53" cy="439.80" r="7.75" fill="#ffd800"/>
<circle cx="518.58" cy="439.80" r="7.75" fill="#ffe800"/>
<circle cx="534.63" cy="439.80" r="7.75" fill="#ffd800"/>
<circle cx="550.69" cy="439.80" r="7.75" fill="#ffe000"/>
<circle cx="566.74" cy="439.80" r="7.75" fill="#ffd800"/>
<circle cx="582.79" cy="439.80" r="7.75" fill="#ffe000"/>
<circle cx="598.85" cy="439.80" r="7.75" fill="#ffe000"/>
<circle cx="614.90" cy="439.80" r="7.75" fill="#ffe800"/>
<circle cx="630.95" cy="439.80" r="7.75" fill="#ffff00"/>
<circle cx="647.00" cy="439.80" r="7.75" fill="#f8ff00"/>
<circle cx="663.06" cy="439.80" r="7.75" fill="#f0ff00"/>
<circle cx="679.11" cy="439.80" r="7.75" fill="#e8ff00"/>
<circle cx="695.16" cy="439.80" r="7.75" fill="#d8ff00"/>
<circle cx="301.87" cy="425.94" r="7.75" fill="#41ffc8"/>
<circle cx="317.92" cy="425.94" r="7.75" fill="#46ffa8"/>
<circle cx="333.97" cy="425.94" r="7.75" fill="#46ff98"/>
<circle cx="350.02" cy="425.94" r="7.75" fill="#31ff50"/>
<circle cx="366.08" cy="425.94" r="7.75" fill="#29ff40"/>
<circle cx="382.13" cy="425.94" r="7.75" fill="#60ff00"/>
<circle cx="398.18" cy="425.94" r="7.75" fill="#70ff00"/>
<circle cx="414.24" cy="425.94" r="7.75" fill="#90ff00"/>
<circle cx="430.29" cy="425.94" r="7.75" fill="#a0ff00"/>
<circle cx="446.34" cy="425.94" r="7.75" fill="#e0ff00"/>
<circle cx="462.40" cy="425.94" r="7.75" fill="#e8ff00"/>
<circle cx="478.45" cy="425.94" r="7.75" fill="#f8ff00"/>
<circle cx="494.50" cy="425.94" r="7.75" fill="#f8ff00"/>
<circle cx="510.55" cy="425.94" r="7.75" fill="#ffe800"/>
<circle cx="526.61" cy="425.94" r="7.75" fill="#fff000"/>
<circle cx="542.66" cy="425.94" r="7.75" fill="#ffe000"/>
<circle cx="558.71" cy="425.94" r="7.75" fill="#ffe800"/>
<circle cx="574.77" cy="425.94" r="7.75" fill="#ffe800"/>
<circle cx="590.82" cy="425.94" r="7.75" fill="#ffe800"/>
<circle cx="606.87" cy="425.94" r="7.75" fill="#ffe800"/>
<circle cx="622.93" cy="425.94" r="7.75" fill="#fff800"/>
<circle cx="638.98" cy="425.94" r="7.75" fill="#f0ff00"/>
<circle cx="655.03" cy="425.94" r="7.75" fill="#f0ff00"/>
<circle cx="671.08" cy="425.94" r="7.75" fill="#e8ff00"/>
<circle cx="687.14" cy="425.94" r="7.75" fill="#e0ff00"/>
<circle cx="309.89" cy="412.09" r="7.75" fill="#45ffb0"/>
<circle cx="325.95" cy="412.09" r="7.75" fill="#46ff98"/>
<circle cx="342.00" cy="412.09" r="7.75" fill="#45ff90"/>
<circle cx="358.05" cy="412.09" r="7.75" fill="#29ff40"/>
<circle cx="374.10" cy="412.09" r="7.75" fill="#09ff10"/>
<circle cx="390.16" cy="412.09" r="7.75" fill="#70ff00"/>
<circle cx="406.21" cy="412.09" r="7.75" fill="#80ff00"/>
<circle cx="422.26" cy="412.09" r="7.75" fill="#a0ff00"/>
<circle cx="438.32" cy="412.09" r="7.75" fill="#b8ff00"/>
<circle cx="454.37" cy="412.09" r="7.75" fill="#e0ff00"/>
<circle cx="470.42" cy="412.09" r="7.75" fill="#e8ff00"/>
<circle cx="486.48" cy="412.09" r="7.75" fill="#f0ff00"/>
<circle cx="502.53" cy="412.09" r="7.75" fill="#f0ff00"/>
<circle cx="518.58" cy="412.09" r="7.75" fill="#f8ff00"/>
<circle cx="534.63" cy="412.09" r="7.75" fill="#fff800"/>
<circle cx="550.69" cy="412.09" r="7.75" fill="#ffe800"/>
<circle cx="566.74" cy="412.09" r="7.75" fill="#fff000"/>
<circle cx="582.79" cy="412.09" r="7.75" fill="#ffe000"/>
<circle cx="598.85" cy="412.09" r="7.75" fill="#fff000"/>
<circle cx="614.90" cy="412.09" r="7.75" fill="#f8ff00"/>
<circle cx="630.95" cy="412.09" r="7.75" fill="#f8ff00"/>
<circle cx="647.00" cy="412.09" r="7.75" fill="#e8ff00"/>
<circle cx="663.06" cy="412.09" r="7.75" fill="#e8ff00"/>
<circle cx="679.11" cy="412.09" r="7.75" fill="#e0ff00"/>
<circle cx="317.92" cy="398.23" r="7.75" fill="#46ff98"/>
<circle cx="333.97" cy="398.23" r="7.75" fill="#42ff80"/>
<circle cx="350.02" cy="398.23" r="7.75" fill="#3eff70"/>
<circle cx="366.08" cy="398.23" r="7.75" fill="#09ff10"/>
<circle cx="382.13" cy="398.23" r="7.75" fill="#40ff00"/>
<circle cx="398.18" cy="398.23" r="7.75" fill="#80ff00"/>
<circle cx="414.24" cy="398.23" r="7.75" fill="#90ff00"/>
<circle cx="430.29" cy="398.23" r="7.75" fill="#a0ff00"/>
<circle cx="446.34" cy="398.23" r="7.75" fill="#c8ff00"/>
<circle cx="462.40" cy="398.23" r="7.75" fill="#e0ff00"/>
<circle cx="478.45" cy="398.23" r="7.75" fill="#e8ff00"/>
<circle cx="494.50" cy="398.23" r="7.75" fill="#e8ff00"/>
<circle cx="510.55" cy="398.23" r="7.75" fill="#e8ff00"/>
<circle cx="526.61" cy="398.23" r="7.75" fill="#ffff00"/>
<circle cx="542.66" cy="398.23" r="7.75" fill="#fff800"/>
<circle cx="558.71" cy="398.23" r="7.75" fill="#fff000"/>
<circle cx="574.77" cy="398.23" r="7.75" fill="#fff000"/>
<circle cx="590.82" cy="398.23" r="7.75" fill="#fff000"/>
<circle cx="606.87" cy="398.23" r="7.75" fill="#f8ff00"/>
<circle cx="622.93" cy="398.23" r="7.75" fill="#f0ff00"/>
<circle cx="638.98" cy="398.23" r="7.75" fill="#f0ff00"/>
<circle cx="655.03" cy="398.23" r="7.75" fill="#e8ff00"/>
<circle cx="671.08" cy="398.23" r="7.75" fill="#d8ff00"/>
<circle cx="325.95" cy="384.38" r="7.75" fill="#45ff90"/>
<circle cx="342.00" cy="384.38" r="7.75" fill="#42ff80"/>
<circle cx="358.05" cy="384.38" r="7.75" fill="#3eff70"/>
<circle cx="374.10" cy="384.38" r="7.75" fill="#40ff00"/>
<circle cx="390.16" cy="384.38" r="7.75" fill="#60ff00"/>
<circle cx="406.21" cy="384.38" r="7.75" fill="#80ff00"/>
<circle cx="422.26" cy="384.38" r="7.75" fill="#a0ff00"/>
<circle cx="438.32" cy="384.38" r="7.75" fill="#b8ff00"/>
<circle cx="454.37" cy="384.38" r="7.75" fill="#d0ff00"/>
<circle cx="470.42" cy="384.38" r="7.75" fill="#e0ff00"/>
<circle cx="486.48" cy="384.38" r="7.75" fill="#e0ff00"/>
<circle cx="502.53" cy="384.38" r="7.75" fill="#e0ff00"/>
<circle cx="518.58" cy="384.38" r="7.75" fill="#e0ff00"/>
<circle cx="534.63" cy="384.38" r="7.75" fill="#f0ff00"/>
<circle cx="550.69" cy="384.38" r="7.75" fill="#f0ff00"/>
<circle cx="566.74" cy="384.38" r="7.75" fill="#f8ff00"/>
<circle cx="582.79" cy="384.38" r="7.75" fill="#f8ff00"/>
<circle cx="598.85" cy="384.38" r="7.75" fill="#f8ff00"/>
<circle cx="614.90" cy="384.38" r="7.75" fill="#e8ff00"/>
<circle cx="630.95" cy="384.38" r="7.75" fill="#e0ff00"/>
<circle cx="647.00" cy="384.38" r="7.75" fill="#e0ff00"/>
<circle cx="663.06" cy="384.38" r="7.75" fill="#d0ff00"/>
<circle cx="333.97" cy="370.53" r="7.75" fill="#3eff70"/>
<circle cx="350.02" cy="370.53" r="7.75" fill="#31ff50"/>
<circle cx="366.08" cy="370.53" r="7.75" fill="#29ff40"/>
<circle cx="382.13" cy="370.53" r="7.75" fill="#60ff00"/>
<circle cx="398.18" cy="370.53" r="7.75" fill="#70ff00"/>
<circle cx="414.24" cy="370.53" r="7.75" fill="#90ff00"/>
<circle cx="430.29" cy="370.53" r="7.75" fill="#a0ff00"/>
<circle cx="446.34" cy="370.53" r="7.75" fill="#c8ff00"/>
<circle cx="462.40" cy="370.53" r="7.75" fill="#c8ff00"/>
<circle cx="478.45" cy="370.53" r="7.75" fill="#d8ff00"/>
<circle cx="494.50" cy="370.53" r="7.75" fill="#d8ff00"/>
<circle cx="510.55" cy="370.53" r="7.75" fill="#e0ff00"/>
<circle cx="526.61" cy="370.53" r="7.75" fill="#e0ff00"/>
<circle cx="542.66" cy="370.53" r="7.75" fill="#f0ff00"/>
<circle cx="558.71" cy="370.53" r="7.75" fill="#f0ff00"/>
<circle cx="574.77" cy="370.53" r="7.75" fill="#f8ff00"/>
<circle cx="590.82" cy="370.53" r="7.75" fill="#f8ff00"/>
<circle cx="606.87" cy="370.53" r="7.75" fill="#e8ff00"/>
<circle cx="622.93" cy="370.53" r="7.75" fill="#e0ff00"/>
<circle cx="638.98" cy="370.53" r="7.75" fill="#e0ff00"/>
<circle cx="655.03" cy="370.53" r="7.75" fill="#d8ff00"/>
<circle cx="342.00" cy="356.67" r="7.75" fill="#3dff6c"/>
<circle cx="358.05" cy="356.67" r="7.75" fill="#2fff4c"/>
<circle cx="374.10" cy="356.67" r="7.75" fill="#07ff0e"/>
<circle cx="390.16" cy="356.67" r="7.75" fill="#68ff00"/>
<circle cx="406.21" cy="356.67" r="7.75" fill="#8aff00"/>
<circle cx="422.26" cy="356.67" r="7.75" fill="#aeff00"/>
<circle cx="438.32" cy="356.67" r="7.75" fill="#b9ff00"/>
<circle cx="454.37" cy="356.67" r="7.75" fill="#c4ff00"/>
<circle cx="470.42" cy="356.67" r="7.75" fill="#cbff00"/>
<circle cx="486.48" cy="356.67" r="7.75" fill="#d2ff00"/>
<circle cx="502.53" cy="356.67" r="7.75" fill="#d9ff00"/>
<circle cx="518.58" cy="356.67" r="7.75" fill="#dfff00"/>
<circle cx="534.63" cy="356.67" r="7.75" fill="#e5ff00"/>
<circle cx="550.69" cy="356.67" r="7.75" fill="#f3ff00"/>
<circle cx="566.74" cy="356.67" r="7.75" fill="#f4ff00"/>
<circle cx="582.79" cy="356.67" r="7.75" fill="#f8ff00"/>
<circle cx="598.85" cy="356.67" r="7.75" fill="#f2ff00"/>
<circle cx="614.90" cy="356.67" r="7.75" fill="#f0ff00"/>
<circle cx="630.95" cy="356.67" r="7.75" fill="#e9ff00"/>
<circle cx="647.00" cy="356.67" r="7.75" fill="#e3ff00"/>
<circle cx="350.02" cy="342.82" r="7.75" fill="#37ff5e"/>
<circle cx="366.08" cy="342.82" r="7.75" fill="#1fff30"/>
<circle cx="382.13" cy="342.82" r="7.75" fill="#48ff00"/>
<circle cx="398.18" cy="342.82" r="7.75" fill="#78ff00"/>
<circle cx="414.24" cy="342.82" r="7.75" fill="#9aff00"/>
<circle cx="430.29" cy="342.82" r="7.75" fill="#afff00"/>
<circle cx="446.34" cy="342.82" r="7.75" fill="#b9ff00"/>
<circle cx="462.40" cy="342.82" r="7.75" fill="#c0ff00"/>
<circle cx="478.45" cy="342.82" r="7.75" fill="#c5ff00"/>
<circle cx="494.50" cy="342.82" r="7.75" fill="#cfff00"/>
<circle cx="510.55" cy="342.82" r="7.75" fill="#d6ff00"/>
<circle cx="526.61" cy="342.82" r="7.75" fill="#dcff00"/>
<circle cx="542.66" cy="342.82" r="7.75" fill="#e5ff00"/>
<circle cx="558.71" cy="342.82" r="7.75" fill="#edff00"/>
<circle cx="574.77" cy="342.82" r="7.75" fill="#edff00"/>
<circle cx="590.82" cy="342.82" r="7.75" fill="#eeff00"/>
<circle cx="606.87" cy="342.82" r="7.75" fill="#eaff00"/>
<circle cx="622.93" cy="342.82" r="7.75" fill="#e9ff00"/>
<circle cx="638.98" cy="342.82" r="7.75" fill="#e2ff00"/>
<circle cx="358.05" cy="328.96" r="7.75" fill="#2dff48"/>
<circle cx="374.10" cy="328.96" r="7.75" fill="#28ff00"/>
<circle cx="390.16" cy="328.96" r="7.75" fill="#5eff00"/>
<circle cx="406.21" cy="328.96" r="7.75" fill="#8aff00"/>
<circle cx="422.26" cy="328.96" r="7.75" fill="#9cff00"/>
<circle cx="438.32" cy="328.96" r="7.75" fill="#afff00"/>
<circle cx="454.37" cy="328.96" r="7.75" fill="#b5ff00"/>
<circle cx="470.42" cy="328.96" r="7.75" fill="#baff00"/>
<circle cx="486.48" cy="328.96" r="7.75" fill="#c3ff00"/>
<circle cx="502.53" cy="328.96" r="7.75" fill="#ccff00"/>
<circle cx="518.58" cy="328.96" r="7.75" fill="#d3ff00"/>
<circle cx="534.63" cy="328.96" r="7.75" fill="#dcff00"/>
<circle cx="550.69" cy="328.96" r="7.75" fill="#e0ff00"/>
<circle cx="566.74" cy="328.96" r="7.75" fill="#e6ff00"/>
<circle cx="582.79" cy="328.96" r="7.75" fill="#e4ff00"/>
<circle cx="598.85" cy="328.96" r="7.75" fill="#e7ff00"/>
<circle cx="614.90" cy="328.96" r="7.75" fill="#e4ff00"/>
<circle cx="630.95" cy="328.96" r="7.75" fill="#e2ff00"/>
<circle cx="366.08" cy="315.11" r="7.75" fill="#16ff23"/>
<circle cx="382.13" cy="315.11" r="7.75" fill="#49ff00"/>
<circle cx="398.18" cy="315.11" r="7.75" fill="#75ff00"/>
<circle cx="414.24" cy="315.11" r="7.75" fill="#8cff00"/>
<circle cx="430.29" cy="315.11" r="7.75" fill="#9dff00"/>
<circle cx="446.34" cy="315.11" r="7.75" fill="#abff00"/>
<circle cx="462.40" cy="315.11" r="7.75" fill="#afff00"/>
<circle cx="478.45" cy="315.11" r="7.75" fill="#b8ff00"/>
<circle cx="494.50" cy="315.11" r="7.75" fill="#c0ff00"/>
<circle cx="510.55" cy="315.11" r="7.75" fill="#caff00"/>
<circle cx="526.61" cy="315.11" r="7.75" fill="#d3ff00"/>
<circle cx="542.66" cy="315.11" r="7.75" fill="#d7ff00"/>
<circle cx="558.71" cy="315.11" r="7.75" fill="#d9ff00"/>
<circle cx="574.77" cy="315.11" r="7.75" fill="#ddff00"/>
<circle cx="590.82" cy="315.11" r="7.75" fill="#ddff00"/>
<circle cx="606.87" cy="315.11" r="7.75" fill="#e0ff00"/>
<circle cx="622.93" cy="315.11" r="7.75" fill="#ddff00"/>
<circle cx="374.10" cy="301.26" r="7.75" fill="#21ff00"/>
<circle cx="390.16" cy="301.26" r="7.75" fill="#64ff00"/>
<circle cx="406.21" cy="301.26" r="7.75" fill="#78ff00"/>
<circle cx="422.26" cy="301.26" r="7.75" fill="#8eff00"/>
<circle cx="438.32" cy="301.26" r="7.75" fill="#99ff00"/>
<circle cx="454.37" cy="301.26" r="7.75" fill="#a5ff00"/>
<circle cx="470.42" cy="301.26" r="7.75" fill="#aeff00"/>
<circle cx="486.48" cy="301.26" r="7.75" fill="#b6ff00"/>
<circle cx="502.53" cy="301.26" r="7.75" fill="#beff00"/>
<circle cx="518.58" cy="301.26" r="7.75" fill="#caff00"/>
<circle cx="534.63" cy="301.26" r="7.75" fill="#ceff00"/>
<circle cx="550.69" cy="301.26" r="7.75" fill="#d0ff00"/>
<circle cx="566.74" cy="301.26" r="7.75" fill="#d1ff00"/>
<circle cx="582.79" cy="301.26" r="7.75" fill="#d7ff00"/>
<circle cx="598.85" cy="301.26" r="7.75" fill="#d7ff00"/>
<circle cx="614.90" cy="301.26" r="7.75" fill="#daff00"/>
<circle cx="382.13" cy="287.40" r="7.75" fill="#4cff00"/>
<circle cx="398.18" cy="287.40" r="7.75" fill="#68ff00"/>
<circle cx="414.24" cy="287.40" r="7.75" fill="#7aff00"/>
<circle cx="430.29" cy="287.40" r="7.75" fill="#8aff00"/>
<circle cx="446.34" cy="287.40" r="7.75" fill="#94ff00"/>
<circle cx="462.40" cy="287.40" r="7.75" fill="#a4ff00"/>
<circle cx="478.45" cy="287.40" r="7.75" fill="#acff00"/>
<circle cx="494.50" cy="287.40" r="7.75" fill="#b4ff00"/>
<circle cx="510.55" cy="287.40" r="7.75" fill="#bfff00"/>
<circle cx="526.61" cy="287.40" r="7.75" fill="#c6ff00"/>
<circle cx="542.66" cy="287.40" r="7.75" fill="#c8ff00"/>
<circle cx="558.71" cy="287.40" r="7.75" fill="#c8ff00"/>
<circle cx="574.77" cy="287.40" r="7.75" fill="#caff00"/>
<circle cx="590.82" cy="287.40" r="7.75" fill="#d1ff00"/>
<circle cx="606.87" cy="287.40" r="7.75" fill="#d0ff00"/>
<circle cx="390.16" cy="273.55" r="7.75" fill="#52ff00"/>
<circle cx="406.21" cy="273.55" r="7.75" fill="#6bff00"/>
<circle cx="422.26" cy="273.55" r="7.75" fill="#76ff00"/>
<circle cx="438.32" cy="273.55" r="7.75" fill="#85ff00"/>
<circle cx="454.37" cy="273.55" r="7.75" fill="#93ff00"/>
<circle cx="470.42" cy="273.55" r="7.75" fill="#a2ff00"/>
<circle cx="486.48" cy="273.55" r="7.75" fill="#aaff00"/>
<circle cx="502.53" cy="273.55" r="7.75" fill="#b5ff00"/>
<circle cx="518.58" cy="273.55" r="7.75" fill="#bbff00"/>
<circle cx="534.63" cy="273.55" r="7.75" fill="#c0ff00"/>
<circle cx="550.69" cy="273.55" r="7.75" fill="#c1ff00"/>
<circle cx="566.74" cy="273.55" r="7.75" fill="#c2ff00"/>
<circle cx="582.79" cy="273.55" r="7.75" fill="#c5ff00"/>
<circle cx="598.85" cy="273.55" r="7.75" fill="#cbff00"/>
<circle cx="398.18" cy="259.69" r="7.75" fill="#56ff00"/>
<circle cx="414.24" cy="259.69" r="7.75" fill="#67ff00"/>
<circle cx="430.29" cy="259.69" r="7.75" fill="#71ff00"/>
<circle cx="446.34" cy="259.69" r="7.75" fill="#85ff00"/>
<circle cx="462.40" cy="259.69" r="7.75" fill="#92ff00"/>
<circle cx="478.45" cy="259.69" r="7.75" fill="#a1ff00"/>
<circle cx="494.50" cy="259.69" r="7.75" fill="#abff00"/>
<circle cx="510.55" cy="259.69" r="7.75" fill="#b1ff00"/>
<circle cx="526.61" cy="259.69" r="7.75" fill="#b5ff00"/>
<circle cx="542.66" cy="259.69" r="7.75" fill="#b8ff00"/>
<circle cx="558.71" cy="259.69" r="7.75" fill="#baff00"/>
<circle cx="574.77" cy="259.69" r="7.75" fill="#bdff00"/>
<circle cx="590.82" cy="259.69" r="7.75" fill="#bfff00"/>
<circle cx="406.21" cy="245.84" r="7.75" fill="#52ff00"/>
<circle cx="422.26" cy="245.84" r="7.75" fill="#62ff00"/>
<circle cx="438.32" cy="245.84" r="7.75" fill="#71ff00"/>
<circle cx="454.37" cy="245.84" r="7.75" fill="#84ff00"/>
<circle cx="470.42" cy="245.84" r="7.75" fill="#91ff00"/>
<circle cx="486.48" cy="245.84" r="7.75" fill="#a2ff00"/>
<circle cx="502.53" cy="245.84" r="7.75" fill="#a8ff00"/>
<circle cx="518.58" cy="245.84" r="7.75" fill="#acff00"/>
<circle cx="534.63" cy="245.84" r="7.75" fill="#aeff00"/>
<circle cx="550.69" cy="245.84" r="7.75" fill="#b2ff00"/>
<circle cx="566.74" cy="245.84" r="7.75" fill="#b6ff00"/>
<circle cx="582.79" cy="245.84" r="7.75" fill="#b7ff00"/>
<circle cx="414.24" cy="231.99" r="7.75" fill="#4dff00"/>
<circle cx="430.29" cy="231.99" r="7.75" fill="#62ff00"/>
<circle cx="446.34" cy="231.99" r="7.75" fill="#71ff00"/>
<circle cx="462.40" cy="231.99" r="7.75" fill="#83ff00"/>
<circle cx="478.45" cy="231.99" r="7.75" fill="#93ff00"/>
<circle cx="494.50" cy="231.99" r="7.75" fill="#9fff00"/>
<circle cx="510.55" cy="231.99" r="7.75" fill="#a2ff00"/>
<circle cx="526.61" cy="231.99" r="7.75" fill="#a4ff00"/>
<circle cx="542.66" cy="231.99" r="7.75" fill="#a8ff00"/>
<circle cx="558.71" cy="231.99" r="7.75" fill="#aeff00"/>
<circle cx="574.77" cy="231.99" r="7.75" fill="#b0ff00"/>
<circle cx="422.26" cy="218.13" r="7.75" fill="#4eff00"/>
<circle cx="438.32" cy="218.13" r="7.75" fill="#62ff00"/>
<circle cx="454.37" cy="218.13" r="7.75" fill="#70ff00"/>
<circle cx="470.42" cy="218.13" r="7.75" fill="#85ff00"/>
<circle cx="486.48" cy="218.13" r="7.75" fill="#8fff00"/>
<circle cx="502.53" cy="218.13" r="7.75" fill="#9aff00"/>
<circle cx="518.58" cy="218.13" r="7.75" fill="#9bff00"/>
<circle cx="534.63" cy="218.13" r="7.75" fill="#9fff00"/>
<circle cx="550.69" cy="218.13" r="7.75" fill="#a3ff00"/>
<circle cx="566.74" cy="218.13" r="7.75" fill="#a8ff00"/>
<circle cx="430.29" cy="204.28" r="7.75" fill="#4eff00"/>
<circle cx="446.34" cy="204.28" r="7.75" fill="#62ff00"/>
<circle cx="462.40" cy="204.28" r="7.75" fill="#73ff00"/>
<circle cx="478.45" cy="204.28" r="7.75" fill="#82ff00"/>
<circle cx="494.50" cy="204.28" r="7.75" fill="#8aff00"/>
<circle cx="510.55" cy="204.28" r="7.75" fill="#93ff00"/>
<circle cx="526.61" cy="204.28" r="7.75" fill="#96ff00"/>
<circle cx="542.66" cy="204.28" r="7.75" fill="#9aff00"/>
<circle cx="558.71" cy="204.28" r="7.75" fill="#9eff00"/>
<circle cx="438.32" cy="190.42" r="7.75" fill="#4eff00"/>
<circle cx="454.37" cy="190.42" r="7.75" fill="#66ff00"/>
<circle cx="470.42" cy="190.42" r="7.75" fill="#70ff00"/>
<circle cx="486.48" cy="190.42" r="7.75" fill="#7dff00"/>
<circle cx="502.53" cy="190.42" r="7.75" fill="#83ff00"/>
<circle cx="518.58" cy="190.42" r="7.75" fill="#8dff00"/>
<circle cx="534.63" cy="190.42" r="7.75" fill="#91ff00"/>
<circle cx="550.69" cy="190.42" r="7.75" fill="#95ff00"/>
<circle cx="446.34" cy="176.57" r="7.75" fill="#53ff00"/>
<circle cx="462.40" cy="176.57" r="7.75" fill="#63ff00"/>
<circle cx="478.45" cy="176.57" r="7.75" fill="#6bff00"/>
<circle cx="494.50" cy="176.57" r="7.75" fill="#75ff00"/>
<circle cx="510.55" cy="176.57" r="7.75" fill="#7dff00"/>
<circle cx="526.61" cy="176.57" r="7.75" fill="#89ff00"/>
<circle cx="542.66" cy="176.57" r="7.75" fill="#8cff00"/>
<circle cx="454.37" cy="162.72" r="7.75" fill="#50ff00"/>
<circle cx="470.42" cy="162.72" r="7.75" fill="#5dff00"/>
<circle cx="486.48" cy="162.72" r="7.75" fill="#63ff00"/>
<circle cx="502.53" cy="162.72" r="7.75" fill="#70ff00"/>
<circle cx="518.58" cy="162.72" r="7.75" fill="#79ff00"/>
<circle cx="534.63" cy="162.72" r="7.75" fill="#84ff00"/>
<circle cx="462.40" cy="148.86" r="7.75" fill="#49ff00"/>
<circle cx="478.45" cy="148.86" r="7.75" fill="#54ff00"/>
<circle cx="494.50" cy="148.86" r="7.75" fill="#5dff00"/>
<circle cx="510.55" cy="148.86" r="7.75" fill="#6bff00"/>
<circle cx="526.61" cy="148.86" r="7.75" fill="#74ff00"/>
<circle cx="470.42" cy="135.01" r="7.75" fill="#3eff00"/>
<circle cx="486.48" cy="135.01" r="7.75" fill="#4dff00"/>
<circle cx="502.53" cy="135.01" r="7.75" fill="#58ff00"/>
<circle cx="518.58" cy="135.01" r="7.75" fill="#66ff00"/>
<circle cx="478.45" cy="121.15" r="7.75" fill="#36ff00"/>
<circle cx="494.50" cy="121.15" r="7.75" fill="#48ff00"/>
<circle cx="510.55" cy="121.15" r="7.75" fill="#52ff00"/>
<circle cx="486.48" cy="107.30" r="7.75" fill="#2eff00"/>
<circle cx="502.53" cy="107.30" r="7.75" fill="#41ff00"/>
<circle cx="494.50" cy="93.45" r="7.75" fill="#23ff00"/></g>
<line x1="85.15" y1="647.71" x2="963.9" y2="647.71" stroke="#F000F0" stroke-opacity="0.92" stroke-width="1.9"/>
<line x1="85.15" y1="731.03" x2="963.9" y2="731.03" stroke="#1EA231" stroke-opacity="0.82" stroke-width="2.0"/>
<line x1="85.15" y1="758.64" x2="963.9" y2="758.64" stroke="#FF0A3C" stroke-opacity="0.95" stroke-width="2.0"/>
<circle cx="574.77" cy="758.44" r="11.2" fill="none" stroke="#666666" stroke-width="2.6"/>
<line x1="582.85" y1="743.30" x2="781.10" y2="401.80" stroke="#5A5F6A" stroke-width="3.0" stroke-dasharray="3.0 3.54"/>
<polygon points="781.1,401.8 766.7,411.3 780.1,418.8" fill="#595959"/>
<text class="ma" x="895.7" y="641" fill="#FF00FF" textLength="112.3" lengthAdjust="spacingAndGlyphs">Moving Av. 11y</text>
<text class="ma" x="895.7" y="723.3" fill="#1DA831" textLength="103.7" lengthAdjust="spacingAndGlyphs">Moving Av. 5y</text>
<text class="ma" x="895.7" y="751" fill="#EE0A40" textLength="103.7" lengthAdjust="spacingAndGlyphs">Moving Av. 3y</text>
<text class="ma" x="907.3" y="791.2" fill="#0A0AE0" textLength="74" lengthAdjust="spacingAndGlyphs">&lt; Original</text>
<text class="ma" x="905.7" y="812.6" fill="#0A0AE0" textLength="88.9" lengthAdjust="spacingAndGlyphs">Time Series</text>
<rect x="677.5" y="251.4" width="257.5" height="126.5" rx="2.5" fill="#FFFFFF"/>
<g class="an">
<text x="684.6" y="274.9" textLength="239.6" lengthAdjust="spacing">This circled dot correspond to</text>
<text x="684.6" y="296.1" textLength="222.6" lengthAdjust="spacing">the data circled in Fig.1, i.e.</text>
<text x="684.6" y="317.3" textLength="233.1" lengthAdjust="spacing">the 3 years average from the</text>
<text x="684.6" y="338.5" textLength="232.3" lengthAdjust="spacing">beginning of 30 to the end of</text>
<text x="684.6" y="359.7" textLength="226.0" lengthAdjust="spacing">32, here is centered at 30.5.</text>
</g>
<text x="960.1" y="378.8" class="lg" style="font-size:15.8px" textLength="64.5" lengthAdjust="spacingAndGlyphs">Average</text>
<defs><linearGradient id="cb" x1="0" y1="0" x2="0" y2="1">
<stop offset="0.0000" stop-color="#cd0000"/>
<stop offset="0.0250" stop-color="#d40000"/>
<stop offset="0.0500" stop-color="#dc0000"/>
<stop offset="0.0750" stop-color="#e30000"/>
<stop offset="0.1000" stop-color="#eb0000"/>
<stop offset="0.1250" stop-color="#f20000"/>
<stop offset="0.1500" stop-color="#fa0000"/>
<stop offset="0.1750" stop-color="#ff2c00"/>
<stop offset="0.2000" stop-color="#ff5f00"/>
<stop offset="0.2250" stop-color="#ff8200"/>
<stop offset="0.2500" stop-color="#ffa100"/>
<stop offset="0.2750" stop-color="#ffbf00"/>
<stop offset="0.3000" stop-color="#ffdb00"/>
<stop offset="0.3250" stop-color="#fff600"/>
<stop offset="0.3500" stop-color="#f0ff00"/>
<stop offset="0.3750" stop-color="#d9ff00"/>
<stop offset="0.4000" stop-color="#c0ff00"/>
<stop offset="0.4250" stop-color="#a5ff00"/>
<stop offset="0.4500" stop-color="#85ff00"/>
<stop offset="0.4750" stop-color="#5eff00"/>
<stop offset="0.5000" stop-color="#00ff00"/>
<stop offset="0.5250" stop-color="#2eff4b"/>
<stop offset="0.5500" stop-color="#3eff71"/>
<stop offset="0.5750" stop-color="#45ff91"/>
<stop offset="0.6000" stop-color="#45ffb0"/>
<stop offset="0.6250" stop-color="#3effce"/>
<stop offset="0.6500" stop-color="#2bffeb"/>
<stop offset="0.6750" stop-color="#28f4ff"/>
<stop offset="0.7000" stop-color="#4ad3ff"/>
<stop offset="0.7250" stop-color="#56b3ff"/>
<stop offset="0.7500" stop-color="#5792ff"/>
<stop offset="0.7750" stop-color="#5171ff"/>
<stop offset="0.8000" stop-color="#424eff"/>
<stop offset="0.8250" stop-color="#2120ff"/>
<stop offset="0.8500" stop-color="#0000f3"/>
<stop offset="0.8750" stop-color="#0000e1"/>
<stop offset="0.9000" stop-color="#0000cf"/>
<stop offset="0.9250" stop-color="#0000be"/>
<stop offset="0.9500" stop-color="#0000ac"/>
<stop offset="0.9750" stop-color="#00009c"/>
<stop offset="1.0000" stop-color="#00008b"/>
</linearGradient></defs>
<rect x="960" y="389" width="25" height="125" fill="url(#cb)"/>
<line x1="960" y1="509.00" x2="965" y2="509.00" stroke="#FFFFFF" stroke-opacity="0.55" stroke-width="1"/>
<line x1="980" y1="509.00" x2="985" y2="509.00" stroke="#FFFFFF" stroke-opacity="0.55" stroke-width="1"/>
<text x="993.3" y="513.70" class="lg">5</text>
<line x1="960" y1="471.20" x2="965" y2="471.20" stroke="#FFFFFF" stroke-opacity="0.55" stroke-width="1"/>
<line x1="980" y1="471.20" x2="985" y2="471.20" stroke="#FFFFFF" stroke-opacity="0.55" stroke-width="1"/>
<text x="993.3" y="475.90" class="lg">10</text>
<line x1="960" y1="433.40" x2="965" y2="433.40" stroke="#FFFFFF" stroke-opacity="0.55" stroke-width="1"/>
<line x1="980" y1="433.40" x2="985" y2="433.40" stroke="#FFFFFF" stroke-opacity="0.55" stroke-width="1"/>
<text x="993.3" y="438.10" class="lg">15</text>
<line x1="960" y1="395.60" x2="965" y2="395.60" stroke="#FFFFFF" stroke-opacity="0.55" stroke-width="1"/>
<line x1="980" y1="395.60" x2="985" y2="395.60" stroke="#FFFFFF" stroke-opacity="0.55" stroke-width="1"/>
<text x="993.3" y="400.30" class="lg">20</text>
</svg>
</body></html>
